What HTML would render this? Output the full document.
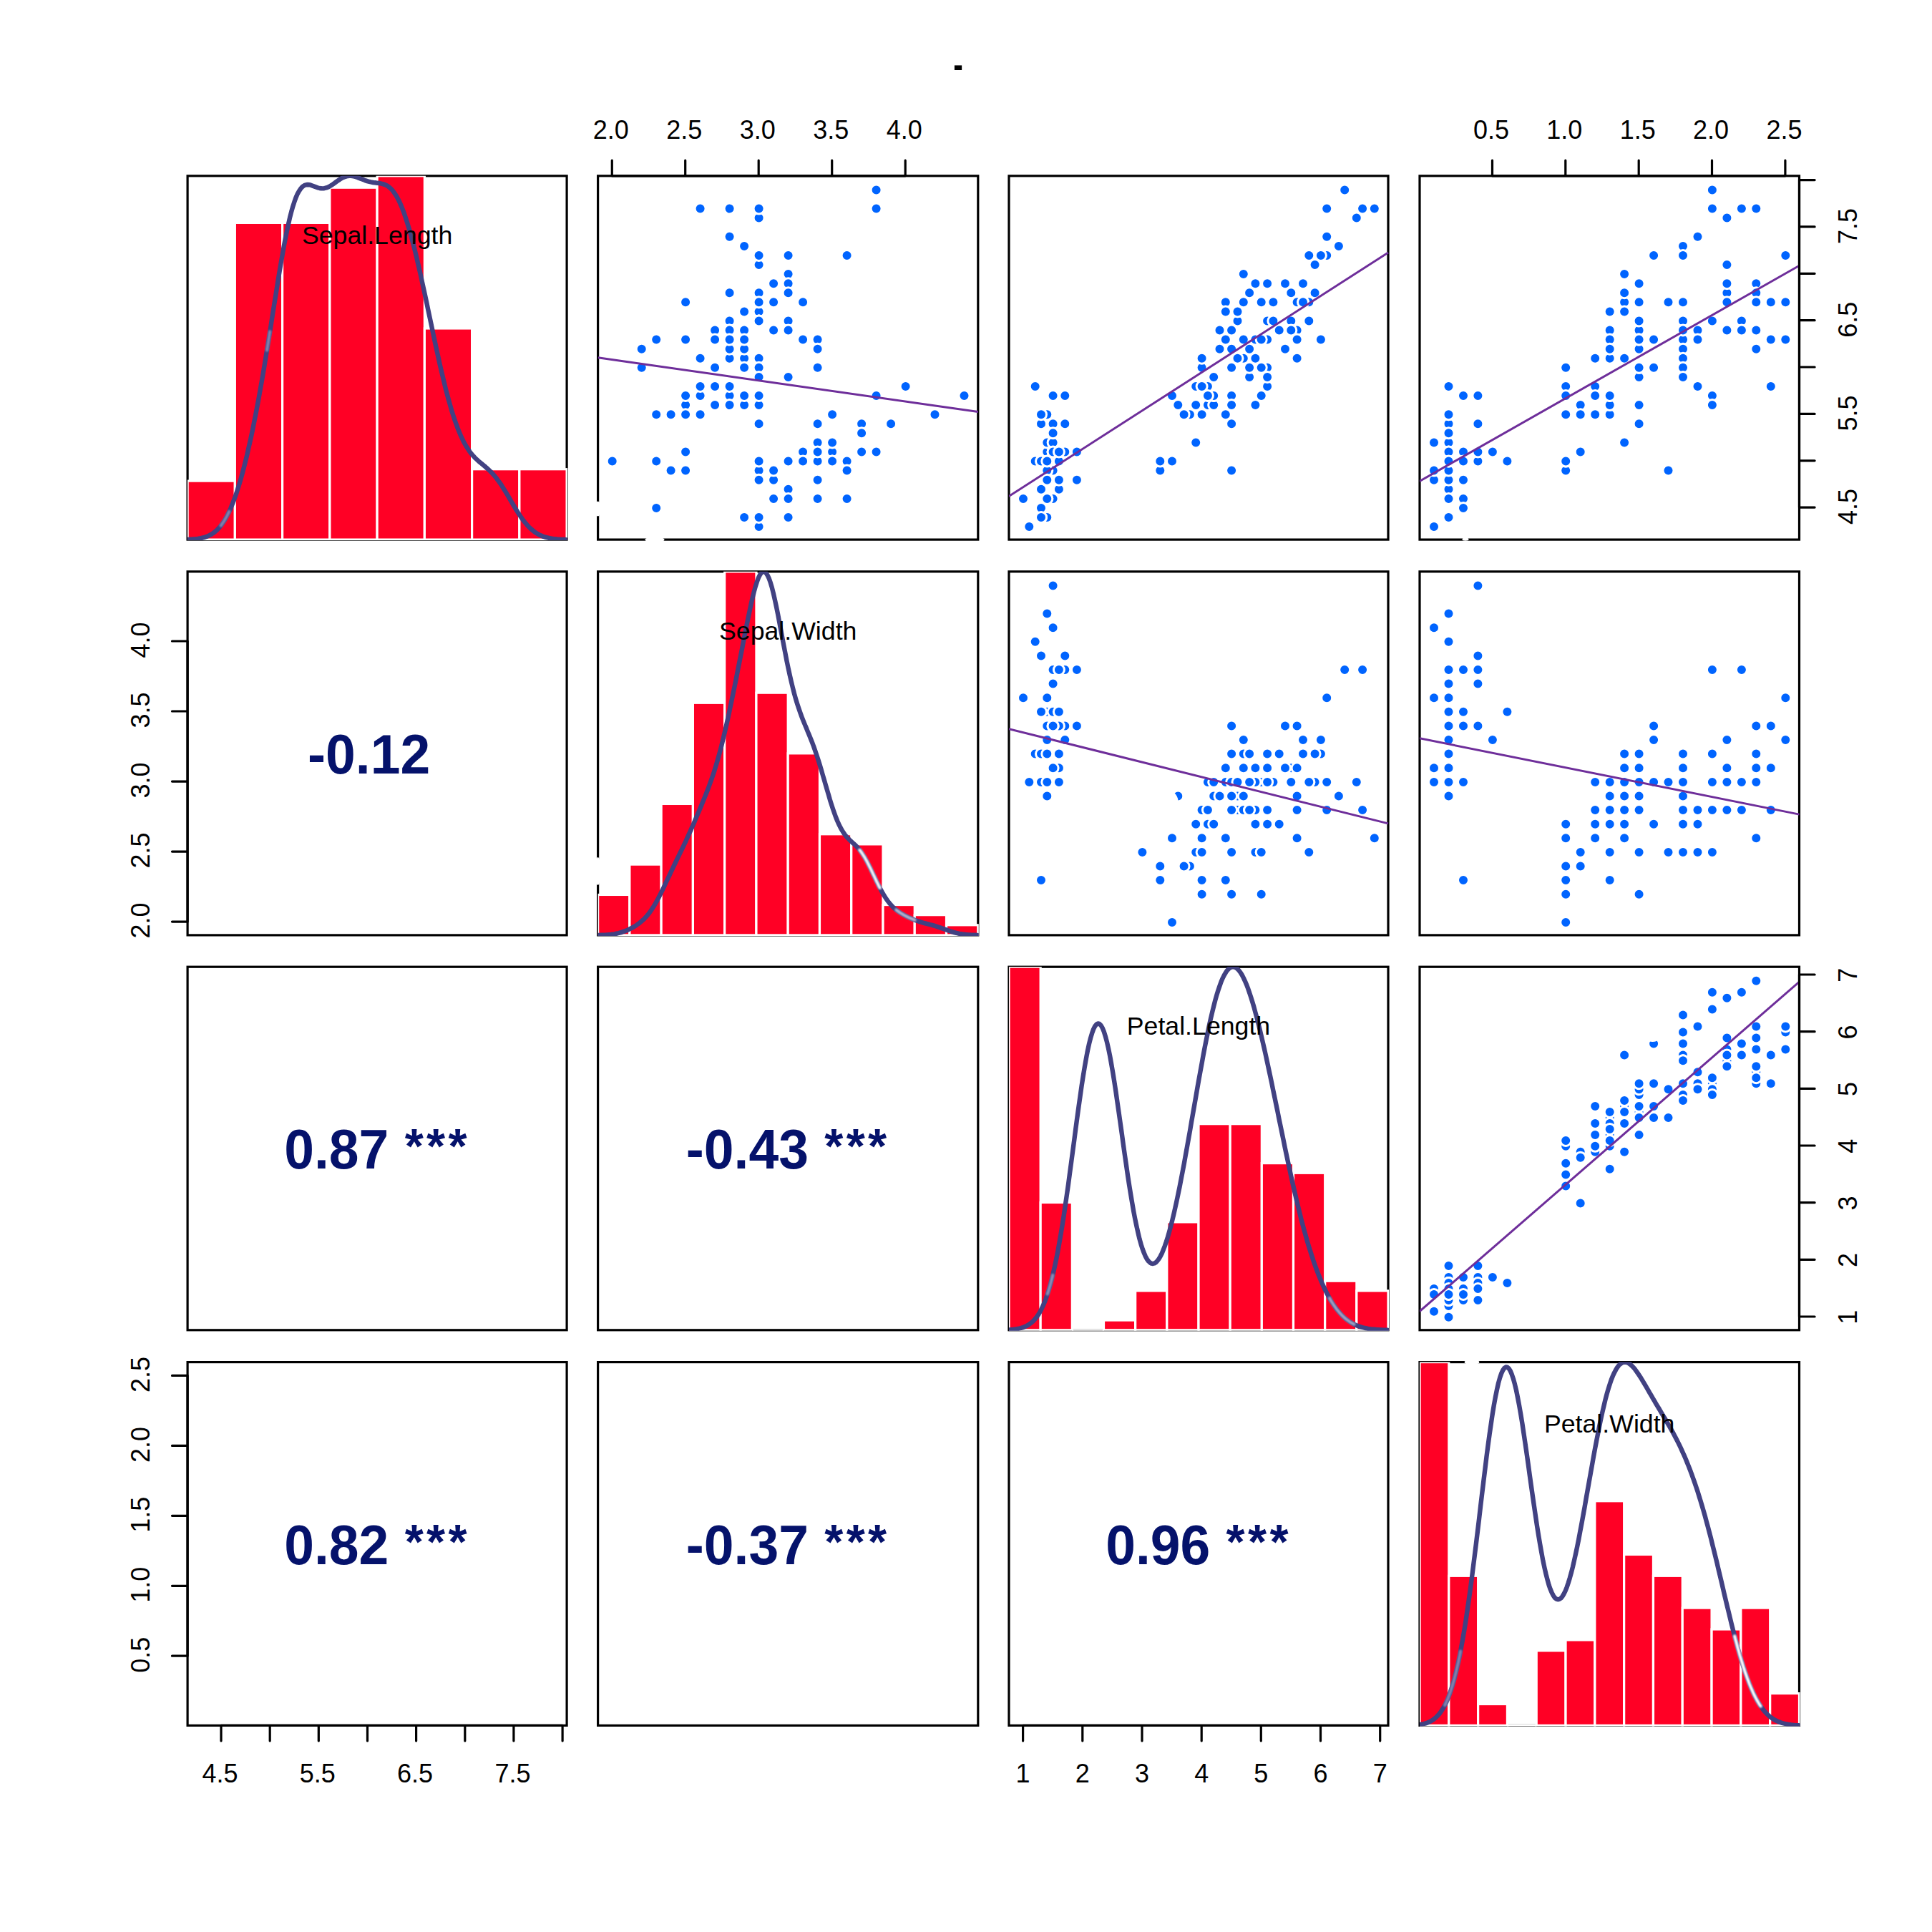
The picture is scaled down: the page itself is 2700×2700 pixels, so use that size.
<!DOCTYPE html>
<html lang="en"><head><meta charset="utf-8"><title>Iris correlation chart</title>
<style>html,body{margin:0;padding:0;background:#fff;overflow:hidden}svg{display:block}</style></head>
<body>
<svg width="2700" height="2700" viewBox="0 0 2700 2700" font-family="'Liberation Sans', Arial, sans-serif">
<rect width="2700" height="2700" fill="#fff"/>
<defs>
<clipPath id="c00"><rect x="262.1" y="245.8" width="531.0" height="509.3"/></clipPath>
<clipPath id="c01"><rect x="835.6" y="245.8" width="532.2" height="509.3"/></clipPath>
<clipPath id="c02"><rect x="1410.0" y="245.8" width="531.0" height="509.3"/></clipPath>
<clipPath id="c03"><rect x="1984.0" y="245.8" width="531.5" height="509.3"/></clipPath>
<clipPath id="c10"><rect x="262.1" y="798.8" width="531.0" height="509.1"/></clipPath>
<clipPath id="c11"><rect x="835.6" y="798.8" width="532.2" height="509.1"/></clipPath>
<clipPath id="c12"><rect x="1410.0" y="798.8" width="531.0" height="509.1"/></clipPath>
<clipPath id="c13"><rect x="1984.0" y="798.8" width="531.5" height="509.1"/></clipPath>
<clipPath id="c20"><rect x="262.1" y="1351.2" width="531.0" height="508.6"/></clipPath>
<clipPath id="c21"><rect x="835.6" y="1351.2" width="532.2" height="508.6"/></clipPath>
<clipPath id="c22"><rect x="1410.0" y="1351.2" width="531.0" height="508.6"/></clipPath>
<clipPath id="c23"><rect x="1984.0" y="1351.2" width="531.5" height="508.6"/></clipPath>
<clipPath id="c30"><rect x="262.1" y="1903.6" width="531.0" height="508.8"/></clipPath>
<clipPath id="c31"><rect x="835.6" y="1903.6" width="532.2" height="508.8"/></clipPath>
<clipPath id="c32"><rect x="1410.0" y="1903.6" width="531.0" height="508.8"/></clipPath>
<clipPath id="c33"><rect x="1984.0" y="1903.6" width="531.5" height="508.8"/></clipPath>
</defs>
<text x="1339" y="97.8" font-size="50" font-weight="bold" text-anchor="middle" fill="#000" transform="translate(1339 97.8) scale(1.45 0.9) translate(-1339 -97.8)">.</text>
<g>
<rect x="262.1" y="245.8" width="530.0" height="508.3" fill="none" stroke="#000" stroke-width="3.2"/>
<g clip-path="url(#c00)" fill="#FF0025" stroke="#fff" stroke-width="3.2">
<rect x="262.10" y="672.12" width="66.25" height="81.98"/>
<rect x="328.35" y="311.39" width="66.25" height="442.71"/>
<rect x="394.60" y="311.39" width="66.25" height="442.71"/>
<rect x="460.85" y="262.20" width="66.25" height="491.90"/>
<rect x="527.10" y="245.80" width="66.25" height="508.30"/>
<rect x="593.35" y="458.96" width="66.25" height="295.14"/>
<rect x="659.60" y="655.72" width="66.25" height="98.38"/>
<rect x="725.85" y="655.72" width="66.25" height="98.38"/>
</g>
<polyline clip-path="url(#c00)" points="262.1,754.0 264.2,753.9 266.2,753.8 268.3,753.7 270.4,753.5 272.5,753.4 274.5,753.1 276.6,752.9 278.7,752.5 280.8,752.2 282.8,751.7 284.9,751.2 287.0,750.5 289.1,749.8 291.1,748.9 293.2,747.9 295.3,746.7 297.4,745.4 299.4,743.9 301.5,742.2 303.6,740.3 305.7,738.1 307.7,735.7 309.8,733.0 311.9,730.0 314.0,726.8 316.0,723.2 318.1,719.3 320.2,715.0 322.3,710.5 324.3,705.5 326.4,700.3 328.5,694.6 330.6,688.6 332.6,682.2 334.7,675.5 336.8,668.4 338.9,660.9 340.9,653.1 343.0,644.9 345.1,636.4 347.1,627.5 349.2,618.3 351.3,608.8 353.4,598.9 355.4,588.6 357.5,578.1 359.6,567.2 361.7,556.0 363.7,544.5 365.8,532.7 367.9,520.6 370.0,508.2 372.0,495.7 374.1,482.9 376.2,470.0 378.3,456.9 380.3,443.8 382.4,430.6 384.5,417.5 386.6,404.4 388.6,391.6 390.7,379.0 392.8,366.7 394.9,354.8 396.9,343.3 399.0,332.4 401.1,322.1 403.2,312.5 405.2,303.6 407.3,295.5 409.4,288.2 411.5,281.8 413.5,276.1 415.6,271.3 417.7,267.4 419.8,264.2 421.8,261.7 423.9,260.0 426.0,258.8 428.0,258.2 430.1,258.0 432.2,258.2 434.3,258.7 436.3,259.4 438.4,260.2 440.5,261.0 442.6,261.8 444.6,262.5 446.7,263.0 448.8,263.3 450.9,263.4 452.9,263.2 455.0,262.7 457.1,262.1 459.2,261.2 461.2,260.1 463.3,258.8 465.4,257.4 467.5,255.9 469.5,254.4 471.6,252.9 473.7,251.5 475.8,250.1 477.8,248.9 479.9,247.9 482.0,247.1 484.1,246.4 486.1,246.0 488.2,245.8 490.3,245.8 492.4,246.0 494.4,246.4 496.5,247.0 498.6,247.6 500.7,248.4 502.7,249.2 504.8,250.0 506.9,250.8 508.9,251.6 511.0,252.4 513.1,253.1 515.2,253.7 517.2,254.2 519.3,254.6 521.4,255.0 523.5,255.3 525.5,255.5 527.6,255.8 529.7,256.0 531.8,256.4 533.8,256.8 535.9,257.4 538.0,258.1 540.1,259.1 542.1,260.3 544.2,261.9 546.3,263.7 548.4,265.9 550.4,268.6 552.5,271.6 554.6,275.0 556.7,278.9 558.7,283.2 560.8,287.9 562.9,293.1 565.0,298.7 567.0,304.8 569.1,311.2 571.2,318.0 573.3,325.2 575.3,332.7 577.4,340.6 579.5,348.8 581.6,357.2 583.6,366.0 585.7,374.9 587.8,384.1 589.8,393.4 591.9,402.9 594.0,412.5 596.1,422.2 598.1,432.0 600.2,441.9 602.3,451.7 604.4,461.6 606.4,471.3 608.5,481.0 610.6,490.6 612.7,500.0 614.7,509.3 616.8,518.3 618.9,527.1 621.0,535.7 623.0,544.0 625.1,551.9 627.2,559.6 629.3,567.0 631.3,574.0 633.4,580.6 635.5,586.9 637.6,592.8 639.6,598.4 641.7,603.6 643.8,608.5 645.9,613.0 647.9,617.2 650.0,621.0 652.1,624.6 654.2,627.8 656.2,630.8 658.3,633.6 660.4,636.1 662.5,638.3 664.5,640.5 666.6,642.4 668.7,644.3 670.7,646.1 672.8,647.8 674.9,649.5 677.0,651.2 679.0,653.0 681.1,654.8 683.2,656.7 685.3,658.7 687.3,660.8 689.4,663.0 691.5,665.5 693.6,668.0 695.6,670.8 697.7,673.6 699.8,676.6 701.9,679.8 703.9,683.1 706.0,686.4 708.1,689.9 710.2,693.4 712.2,696.9 714.3,700.5 716.4,704.0 718.5,707.5 720.5,711.0 722.6,714.3 724.7,717.6 726.8,720.7 728.8,723.7 730.9,726.6 733.0,729.3 735.1,731.8 737.1,734.2 739.2,736.4 741.3,738.5 743.4,740.3 745.4,742.0 747.5,743.6 749.6,745.0 751.6,746.2 753.7,747.3 755.8,748.3 757.9,749.2 759.9,750.0 762.0,750.6 764.1,751.2 766.2,751.7 768.2,752.1 770.3,752.5 772.4,752.8 774.5,753.1 776.5,753.3 778.6,753.5 780.7,753.6 782.8,753.8 784.8,753.9 786.9,754.0 789.0,754.0 791.1,754.1" fill="none" stroke="#414182" stroke-width="6.4" stroke-linejoin="round" stroke-linecap="round"/>
<text x="527.1" y="340.8" font-size="35.7" text-anchor="middle" fill="#000">Sepal.Length</text>
</g>
<g>
<rect x="835.6" y="245.8" width="531.2" height="508.3" fill="none" stroke="#000" stroke-width="3.2"/>
<g clip-path="url(#c01)" fill="#0064FF" stroke="#fff" stroke-width="3.0">
<circle cx="1163.1" cy="631.5" r="7.5"/>
<circle cx="1060.6" cy="657.6" r="7.5"/>
<circle cx="1101.6" cy="683.8" r="7.5"/>
<circle cx="1081.1" cy="696.9" r="7.5"/>
<circle cx="1183.6" cy="644.6" r="7.5"/>
<circle cx="1245.1" cy="592.3" r="7.5"/>
<circle cx="1142.6" cy="696.9" r="7.5"/>
<circle cx="1142.6" cy="644.6" r="7.5"/>
<circle cx="1040.1" cy="723.0" r="7.5"/>
<circle cx="1081.1" cy="657.6" r="7.5"/>
<circle cx="1204.1" cy="592.3" r="7.5"/>
<circle cx="1142.6" cy="670.7" r="7.5"/>
<circle cx="1060.6" cy="670.7" r="7.5"/>
<circle cx="1060.6" cy="736.1" r="7.5"/>
<circle cx="1265.6" cy="540.0" r="7.5"/>
<circle cx="1347.5" cy="553.0" r="7.5"/>
<circle cx="1245.1" cy="592.3" r="7.5"/>
<circle cx="1163.1" cy="631.5" r="7.5"/>
<circle cx="1224.6" cy="553.0" r="7.5"/>
<circle cx="1224.6" cy="631.5" r="7.5"/>
<circle cx="1142.6" cy="592.3" r="7.5"/>
<circle cx="1204.1" cy="631.5" r="7.5"/>
<circle cx="1183.6" cy="696.9" r="7.5"/>
<circle cx="1122.1" cy="631.5" r="7.5"/>
<circle cx="1142.6" cy="670.7" r="7.5"/>
<circle cx="1060.6" cy="644.6" r="7.5"/>
<circle cx="1142.6" cy="644.6" r="7.5"/>
<circle cx="1163.1" cy="618.4" r="7.5"/>
<circle cx="1142.6" cy="618.4" r="7.5"/>
<circle cx="1101.6" cy="683.8" r="7.5"/>
<circle cx="1081.1" cy="670.7" r="7.5"/>
<circle cx="1142.6" cy="592.3" r="7.5"/>
<circle cx="1306.5" cy="579.2" r="7.5"/>
<circle cx="1081.1" cy="657.6" r="7.5"/>
<circle cx="1101.6" cy="644.6" r="7.5"/>
<circle cx="1163.1" cy="579.2" r="7.5"/>
<circle cx="1183.6" cy="657.6" r="7.5"/>
<circle cx="1060.6" cy="723.0" r="7.5"/>
<circle cx="1142.6" cy="631.5" r="7.5"/>
<circle cx="1163.1" cy="644.6" r="7.5"/>
<circle cx="917.2" cy="709.9" r="7.5"/>
<circle cx="1101.6" cy="723.0" r="7.5"/>
<circle cx="1163.1" cy="644.6" r="7.5"/>
<circle cx="1224.6" cy="631.5" r="7.5"/>
<circle cx="1060.6" cy="670.7" r="7.5"/>
<circle cx="1224.6" cy="631.5" r="7.5"/>
<circle cx="1101.6" cy="696.9" r="7.5"/>
<circle cx="1204.1" cy="605.3" r="7.5"/>
<circle cx="1122.1" cy="644.6" r="7.5"/>
<circle cx="1101.6" cy="383.1" r="7.5"/>
<circle cx="1101.6" cy="461.5" r="7.5"/>
<circle cx="1081.1" cy="396.2" r="7.5"/>
<circle cx="917.2" cy="579.2" r="7.5"/>
<circle cx="1019.6" cy="448.5" r="7.5"/>
<circle cx="1019.6" cy="553.0" r="7.5"/>
<circle cx="1122.1" cy="474.6" r="7.5"/>
<circle cx="937.6" cy="657.6" r="7.5"/>
<circle cx="1040.1" cy="435.4" r="7.5"/>
<circle cx="855.7" cy="644.6" r="7.5"/>
<circle cx="1060.6" cy="526.9" r="7.5"/>
<circle cx="896.7" cy="513.8" r="7.5"/>
<circle cx="1040.1" cy="500.8" r="7.5"/>
<circle cx="1040.1" cy="566.1" r="7.5"/>
<circle cx="1081.1" cy="422.3" r="7.5"/>
<circle cx="1060.6" cy="566.1" r="7.5"/>
<circle cx="999.1" cy="540.0" r="7.5"/>
<circle cx="896.7" cy="487.7" r="7.5"/>
<circle cx="958.1" cy="566.1" r="7.5"/>
<circle cx="1101.6" cy="526.9" r="7.5"/>
<circle cx="1019.6" cy="500.8" r="7.5"/>
<circle cx="958.1" cy="474.6" r="7.5"/>
<circle cx="1019.6" cy="500.8" r="7.5"/>
<circle cx="1040.1" cy="461.5" r="7.5"/>
<circle cx="1060.6" cy="435.4" r="7.5"/>
<circle cx="1019.6" cy="409.2" r="7.5"/>
<circle cx="1060.6" cy="422.3" r="7.5"/>
<circle cx="1040.1" cy="513.8" r="7.5"/>
<circle cx="978.6" cy="553.0" r="7.5"/>
<circle cx="937.6" cy="579.2" r="7.5"/>
<circle cx="937.6" cy="579.2" r="7.5"/>
<circle cx="999.1" cy="540.0" r="7.5"/>
<circle cx="999.1" cy="513.8" r="7.5"/>
<circle cx="1060.6" cy="592.3" r="7.5"/>
<circle cx="1142.6" cy="513.8" r="7.5"/>
<circle cx="1081.1" cy="422.3" r="7.5"/>
<circle cx="917.2" cy="474.6" r="7.5"/>
<circle cx="1060.6" cy="566.1" r="7.5"/>
<circle cx="958.1" cy="579.2" r="7.5"/>
<circle cx="978.6" cy="579.2" r="7.5"/>
<circle cx="1060.6" cy="500.8" r="7.5"/>
<circle cx="978.6" cy="540.0" r="7.5"/>
<circle cx="917.2" cy="644.6" r="7.5"/>
<circle cx="999.1" cy="566.1" r="7.5"/>
<circle cx="1060.6" cy="553.0" r="7.5"/>
<circle cx="1040.1" cy="553.0" r="7.5"/>
<circle cx="1040.1" cy="487.7" r="7.5"/>
<circle cx="958.1" cy="631.5" r="7.5"/>
<circle cx="1019.6" cy="553.0" r="7.5"/>
<circle cx="1122.1" cy="474.6" r="7.5"/>
<circle cx="999.1" cy="540.0" r="7.5"/>
<circle cx="1060.6" cy="370.0" r="7.5"/>
<circle cx="1040.1" cy="474.6" r="7.5"/>
<circle cx="1060.6" cy="448.5" r="7.5"/>
<circle cx="1060.6" cy="304.6" r="7.5"/>
<circle cx="958.1" cy="657.6" r="7.5"/>
<circle cx="1040.1" cy="343.9" r="7.5"/>
<circle cx="958.1" cy="422.3" r="7.5"/>
<circle cx="1183.6" cy="356.9" r="7.5"/>
<circle cx="1101.6" cy="448.5" r="7.5"/>
<circle cx="999.1" cy="461.5" r="7.5"/>
<circle cx="1060.6" cy="409.2" r="7.5"/>
<circle cx="958.1" cy="553.0" r="7.5"/>
<circle cx="1019.6" cy="540.0" r="7.5"/>
<circle cx="1101.6" cy="461.5" r="7.5"/>
<circle cx="1060.6" cy="448.5" r="7.5"/>
<circle cx="1224.6" cy="291.6" r="7.5"/>
<circle cx="978.6" cy="291.6" r="7.5"/>
<circle cx="896.7" cy="513.8" r="7.5"/>
<circle cx="1101.6" cy="396.2" r="7.5"/>
<circle cx="1019.6" cy="566.1" r="7.5"/>
<circle cx="1019.6" cy="291.6" r="7.5"/>
<circle cx="999.1" cy="474.6" r="7.5"/>
<circle cx="1122.1" cy="422.3" r="7.5"/>
<circle cx="1101.6" cy="356.9" r="7.5"/>
<circle cx="1019.6" cy="487.7" r="7.5"/>
<circle cx="1060.6" cy="500.8" r="7.5"/>
<circle cx="1019.6" cy="461.5" r="7.5"/>
<circle cx="1060.6" cy="356.9" r="7.5"/>
<circle cx="1019.6" cy="330.8" r="7.5"/>
<circle cx="1224.6" cy="265.4" r="7.5"/>
<circle cx="1019.6" cy="461.5" r="7.5"/>
<circle cx="1019.6" cy="474.6" r="7.5"/>
<circle cx="978.6" cy="500.8" r="7.5"/>
<circle cx="1060.6" cy="291.6" r="7.5"/>
<circle cx="1142.6" cy="474.6" r="7.5"/>
<circle cx="1081.1" cy="461.5" r="7.5"/>
<circle cx="1060.6" cy="513.8" r="7.5"/>
<circle cx="1081.1" cy="396.2" r="7.5"/>
<circle cx="1081.1" cy="422.3" r="7.5"/>
<circle cx="1081.1" cy="396.2" r="7.5"/>
<circle cx="999.1" cy="540.0" r="7.5"/>
<circle cx="1101.6" cy="409.2" r="7.5"/>
<circle cx="1122.1" cy="422.3" r="7.5"/>
<circle cx="1060.6" cy="422.3" r="7.5"/>
<circle cx="958.1" cy="474.6" r="7.5"/>
<circle cx="1060.6" cy="448.5" r="7.5"/>
<circle cx="1142.6" cy="487.7" r="7.5"/>
<circle cx="1060.6" cy="526.9" r="7.5"/>
</g>
<line clip-path="url(#c01)" x1="835.6" y1="499.8" x2="1366.8" y2="575.5" stroke="#6E2E9A" stroke-width="3"/>
</g>
<g>
<rect x="1410.0" y="245.8" width="530.0" height="508.3" fill="none" stroke="#000" stroke-width="3.2"/>
<g clip-path="url(#c02)" fill="#0064FF" stroke="#fff" stroke-width="3.0">
<circle cx="1463.3" cy="631.5" r="7.5"/>
<circle cx="1463.3" cy="657.6" r="7.5"/>
<circle cx="1455.0" cy="683.8" r="7.5"/>
<circle cx="1471.6" cy="696.9" r="7.5"/>
<circle cx="1463.3" cy="644.6" r="7.5"/>
<circle cx="1488.3" cy="592.3" r="7.5"/>
<circle cx="1463.3" cy="696.9" r="7.5"/>
<circle cx="1471.6" cy="644.6" r="7.5"/>
<circle cx="1463.3" cy="723.0" r="7.5"/>
<circle cx="1471.6" cy="657.6" r="7.5"/>
<circle cx="1471.6" cy="592.3" r="7.5"/>
<circle cx="1479.9" cy="670.7" r="7.5"/>
<circle cx="1463.3" cy="670.7" r="7.5"/>
<circle cx="1438.3" cy="736.1" r="7.5"/>
<circle cx="1446.7" cy="540.0" r="7.5"/>
<circle cx="1471.6" cy="553.0" r="7.5"/>
<circle cx="1455.0" cy="592.3" r="7.5"/>
<circle cx="1463.3" cy="631.5" r="7.5"/>
<circle cx="1488.3" cy="553.0" r="7.5"/>
<circle cx="1471.6" cy="631.5" r="7.5"/>
<circle cx="1488.3" cy="592.3" r="7.5"/>
<circle cx="1471.6" cy="631.5" r="7.5"/>
<circle cx="1430.0" cy="696.9" r="7.5"/>
<circle cx="1488.3" cy="631.5" r="7.5"/>
<circle cx="1504.9" cy="670.7" r="7.5"/>
<circle cx="1479.9" cy="644.6" r="7.5"/>
<circle cx="1479.9" cy="644.6" r="7.5"/>
<circle cx="1471.6" cy="618.4" r="7.5"/>
<circle cx="1463.3" cy="618.4" r="7.5"/>
<circle cx="1479.9" cy="683.8" r="7.5"/>
<circle cx="1479.9" cy="670.7" r="7.5"/>
<circle cx="1471.6" cy="592.3" r="7.5"/>
<circle cx="1471.6" cy="618.4" r="7.5"/>
<circle cx="1463.3" cy="579.2" r="7.5"/>
<circle cx="1471.6" cy="657.6" r="7.5"/>
<circle cx="1446.7" cy="644.6" r="7.5"/>
<circle cx="1455.0" cy="579.2" r="7.5"/>
<circle cx="1463.3" cy="657.6" r="7.5"/>
<circle cx="1455.0" cy="723.0" r="7.5"/>
<circle cx="1471.6" cy="631.5" r="7.5"/>
<circle cx="1455.0" cy="644.6" r="7.5"/>
<circle cx="1455.0" cy="709.9" r="7.5"/>
<circle cx="1455.0" cy="723.0" r="7.5"/>
<circle cx="1479.9" cy="644.6" r="7.5"/>
<circle cx="1504.9" cy="631.5" r="7.5"/>
<circle cx="1463.3" cy="670.7" r="7.5"/>
<circle cx="1479.9" cy="631.5" r="7.5"/>
<circle cx="1463.3" cy="696.9" r="7.5"/>
<circle cx="1471.6" cy="605.3" r="7.5"/>
<circle cx="1463.3" cy="644.6" r="7.5"/>
<circle cx="1737.8" cy="383.1" r="7.5"/>
<circle cx="1721.1" cy="461.5" r="7.5"/>
<circle cx="1754.4" cy="396.2" r="7.5"/>
<circle cx="1679.6" cy="579.2" r="7.5"/>
<circle cx="1729.5" cy="448.5" r="7.5"/>
<circle cx="1721.1" cy="553.0" r="7.5"/>
<circle cx="1737.8" cy="474.6" r="7.5"/>
<circle cx="1621.3" cy="657.6" r="7.5"/>
<circle cx="1729.5" cy="435.4" r="7.5"/>
<circle cx="1671.2" cy="618.4" r="7.5"/>
<circle cx="1638.0" cy="644.6" r="7.5"/>
<circle cx="1696.2" cy="526.9" r="7.5"/>
<circle cx="1679.6" cy="513.8" r="7.5"/>
<circle cx="1737.8" cy="500.8" r="7.5"/>
<circle cx="1646.3" cy="566.1" r="7.5"/>
<circle cx="1712.8" cy="422.3" r="7.5"/>
<circle cx="1721.1" cy="566.1" r="7.5"/>
<circle cx="1687.9" cy="540.0" r="7.5"/>
<circle cx="1721.1" cy="487.7" r="7.5"/>
<circle cx="1671.2" cy="566.1" r="7.5"/>
<circle cx="1746.1" cy="526.9" r="7.5"/>
<circle cx="1679.6" cy="500.8" r="7.5"/>
<circle cx="1754.4" cy="474.6" r="7.5"/>
<circle cx="1737.8" cy="500.8" r="7.5"/>
<circle cx="1704.5" cy="461.5" r="7.5"/>
<circle cx="1712.8" cy="435.4" r="7.5"/>
<circle cx="1746.1" cy="409.2" r="7.5"/>
<circle cx="1762.7" cy="422.3" r="7.5"/>
<circle cx="1721.1" cy="513.8" r="7.5"/>
<circle cx="1638.0" cy="553.0" r="7.5"/>
<circle cx="1662.9" cy="579.2" r="7.5"/>
<circle cx="1654.6" cy="579.2" r="7.5"/>
<circle cx="1671.2" cy="540.0" r="7.5"/>
<circle cx="1771.1" cy="513.8" r="7.5"/>
<circle cx="1721.1" cy="592.3" r="7.5"/>
<circle cx="1721.1" cy="513.8" r="7.5"/>
<circle cx="1737.8" cy="422.3" r="7.5"/>
<circle cx="1712.8" cy="474.6" r="7.5"/>
<circle cx="1687.9" cy="566.1" r="7.5"/>
<circle cx="1679.6" cy="579.2" r="7.5"/>
<circle cx="1712.8" cy="579.2" r="7.5"/>
<circle cx="1729.5" cy="500.8" r="7.5"/>
<circle cx="1679.6" cy="540.0" r="7.5"/>
<circle cx="1621.3" cy="644.6" r="7.5"/>
<circle cx="1696.2" cy="566.1" r="7.5"/>
<circle cx="1696.2" cy="553.0" r="7.5"/>
<circle cx="1696.2" cy="553.0" r="7.5"/>
<circle cx="1704.5" cy="487.7" r="7.5"/>
<circle cx="1687.9" cy="553.0" r="7.5"/>
<circle cx="1845.9" cy="474.6" r="7.5"/>
<circle cx="1771.1" cy="540.0" r="7.5"/>
<circle cx="1837.6" cy="370.0" r="7.5"/>
<circle cx="1812.6" cy="474.6" r="7.5"/>
<circle cx="1829.3" cy="448.5" r="7.5"/>
<circle cx="1895.8" cy="304.6" r="7.5"/>
<circle cx="1721.1" cy="657.6" r="7.5"/>
<circle cx="1870.9" cy="343.9" r="7.5"/>
<circle cx="1829.3" cy="422.3" r="7.5"/>
<circle cx="1854.2" cy="356.9" r="7.5"/>
<circle cx="1771.1" cy="448.5" r="7.5"/>
<circle cx="1787.7" cy="461.5" r="7.5"/>
<circle cx="1804.3" cy="409.2" r="7.5"/>
<circle cx="1762.7" cy="553.0" r="7.5"/>
<circle cx="1771.1" cy="540.0" r="7.5"/>
<circle cx="1787.7" cy="461.5" r="7.5"/>
<circle cx="1804.3" cy="448.5" r="7.5"/>
<circle cx="1904.1" cy="291.6" r="7.5"/>
<circle cx="1920.8" cy="291.6" r="7.5"/>
<circle cx="1762.7" cy="513.8" r="7.5"/>
<circle cx="1821.0" cy="396.2" r="7.5"/>
<circle cx="1754.4" cy="566.1" r="7.5"/>
<circle cx="1904.1" cy="291.6" r="7.5"/>
<circle cx="1754.4" cy="474.6" r="7.5"/>
<circle cx="1821.0" cy="422.3" r="7.5"/>
<circle cx="1845.9" cy="356.9" r="7.5"/>
<circle cx="1746.1" cy="487.7" r="7.5"/>
<circle cx="1754.4" cy="500.8" r="7.5"/>
<circle cx="1812.6" cy="461.5" r="7.5"/>
<circle cx="1829.3" cy="356.9" r="7.5"/>
<circle cx="1854.2" cy="330.8" r="7.5"/>
<circle cx="1879.2" cy="265.4" r="7.5"/>
<circle cx="1812.6" cy="461.5" r="7.5"/>
<circle cx="1771.1" cy="474.6" r="7.5"/>
<circle cx="1812.6" cy="500.8" r="7.5"/>
<circle cx="1854.2" cy="291.6" r="7.5"/>
<circle cx="1812.6" cy="474.6" r="7.5"/>
<circle cx="1804.3" cy="461.5" r="7.5"/>
<circle cx="1746.1" cy="513.8" r="7.5"/>
<circle cx="1796.0" cy="396.2" r="7.5"/>
<circle cx="1812.6" cy="422.3" r="7.5"/>
<circle cx="1771.1" cy="396.2" r="7.5"/>
<circle cx="1771.1" cy="540.0" r="7.5"/>
<circle cx="1837.6" cy="409.2" r="7.5"/>
<circle cx="1821.0" cy="422.3" r="7.5"/>
<circle cx="1779.4" cy="422.3" r="7.5"/>
<circle cx="1762.7" cy="474.6" r="7.5"/>
<circle cx="1779.4" cy="448.5" r="7.5"/>
<circle cx="1796.0" cy="487.7" r="7.5"/>
<circle cx="1771.1" cy="526.9" r="7.5"/>
</g>
<line clip-path="url(#c02)" x1="1410.0" y1="693.6" x2="1940.0" y2="352.9" stroke="#6E2E9A" stroke-width="3"/>
</g>
<g>
<rect x="1984.0" y="245.8" width="530.5" height="508.3" fill="none" stroke="#000" stroke-width="3.2"/>
<g clip-path="url(#c03)" fill="#0064FF" stroke="#fff" stroke-width="3.0">
<circle cx="2024.5" cy="631.5" r="7.5"/>
<circle cx="2024.5" cy="657.6" r="7.5"/>
<circle cx="2024.5" cy="683.8" r="7.5"/>
<circle cx="2024.5" cy="696.9" r="7.5"/>
<circle cx="2024.5" cy="644.6" r="7.5"/>
<circle cx="2065.4" cy="592.3" r="7.5"/>
<circle cx="2045.0" cy="696.9" r="7.5"/>
<circle cx="2024.5" cy="644.6" r="7.5"/>
<circle cx="2024.5" cy="723.0" r="7.5"/>
<circle cx="2004.0" cy="657.6" r="7.5"/>
<circle cx="2024.5" cy="592.3" r="7.5"/>
<circle cx="2024.5" cy="670.7" r="7.5"/>
<circle cx="2004.0" cy="670.7" r="7.5"/>
<circle cx="2004.0" cy="736.1" r="7.5"/>
<circle cx="2024.5" cy="540.0" r="7.5"/>
<circle cx="2065.4" cy="553.0" r="7.5"/>
<circle cx="2065.4" cy="592.3" r="7.5"/>
<circle cx="2045.0" cy="631.5" r="7.5"/>
<circle cx="2045.0" cy="553.0" r="7.5"/>
<circle cx="2045.0" cy="631.5" r="7.5"/>
<circle cx="2024.5" cy="592.3" r="7.5"/>
<circle cx="2065.4" cy="631.5" r="7.5"/>
<circle cx="2024.5" cy="696.9" r="7.5"/>
<circle cx="2085.9" cy="631.5" r="7.5"/>
<circle cx="2024.5" cy="670.7" r="7.5"/>
<circle cx="2024.5" cy="644.6" r="7.5"/>
<circle cx="2065.4" cy="644.6" r="7.5"/>
<circle cx="2024.5" cy="618.4" r="7.5"/>
<circle cx="2024.5" cy="618.4" r="7.5"/>
<circle cx="2024.5" cy="683.8" r="7.5"/>
<circle cx="2024.5" cy="670.7" r="7.5"/>
<circle cx="2065.4" cy="592.3" r="7.5"/>
<circle cx="2004.0" cy="618.4" r="7.5"/>
<circle cx="2024.5" cy="579.2" r="7.5"/>
<circle cx="2024.5" cy="657.6" r="7.5"/>
<circle cx="2024.5" cy="644.6" r="7.5"/>
<circle cx="2024.5" cy="579.2" r="7.5"/>
<circle cx="2004.0" cy="657.6" r="7.5"/>
<circle cx="2024.5" cy="723.0" r="7.5"/>
<circle cx="2024.5" cy="631.5" r="7.5"/>
<circle cx="2045.0" cy="644.6" r="7.5"/>
<circle cx="2045.0" cy="709.9" r="7.5"/>
<circle cx="2024.5" cy="723.0" r="7.5"/>
<circle cx="2106.4" cy="644.6" r="7.5"/>
<circle cx="2065.4" cy="631.5" r="7.5"/>
<circle cx="2045.0" cy="670.7" r="7.5"/>
<circle cx="2024.5" cy="631.5" r="7.5"/>
<circle cx="2024.5" cy="696.9" r="7.5"/>
<circle cx="2024.5" cy="605.3" r="7.5"/>
<circle cx="2024.5" cy="644.6" r="7.5"/>
<circle cx="2270.1" cy="383.1" r="7.5"/>
<circle cx="2290.6" cy="461.5" r="7.5"/>
<circle cx="2290.6" cy="396.2" r="7.5"/>
<circle cx="2249.7" cy="579.2" r="7.5"/>
<circle cx="2290.6" cy="448.5" r="7.5"/>
<circle cx="2249.7" cy="553.0" r="7.5"/>
<circle cx="2311.1" cy="474.6" r="7.5"/>
<circle cx="2188.2" cy="657.6" r="7.5"/>
<circle cx="2249.7" cy="435.4" r="7.5"/>
<circle cx="2270.1" cy="618.4" r="7.5"/>
<circle cx="2188.2" cy="644.6" r="7.5"/>
<circle cx="2290.6" cy="526.9" r="7.5"/>
<circle cx="2188.2" cy="513.8" r="7.5"/>
<circle cx="2270.1" cy="500.8" r="7.5"/>
<circle cx="2249.7" cy="566.1" r="7.5"/>
<circle cx="2270.1" cy="422.3" r="7.5"/>
<circle cx="2290.6" cy="566.1" r="7.5"/>
<circle cx="2188.2" cy="540.0" r="7.5"/>
<circle cx="2290.6" cy="487.7" r="7.5"/>
<circle cx="2208.7" cy="566.1" r="7.5"/>
<circle cx="2352.0" cy="526.9" r="7.5"/>
<circle cx="2249.7" cy="500.8" r="7.5"/>
<circle cx="2290.6" cy="474.6" r="7.5"/>
<circle cx="2229.2" cy="500.8" r="7.5"/>
<circle cx="2249.7" cy="461.5" r="7.5"/>
<circle cx="2270.1" cy="435.4" r="7.5"/>
<circle cx="2270.1" cy="409.2" r="7.5"/>
<circle cx="2331.5" cy="422.3" r="7.5"/>
<circle cx="2290.6" cy="513.8" r="7.5"/>
<circle cx="2188.2" cy="553.0" r="7.5"/>
<circle cx="2208.7" cy="579.2" r="7.5"/>
<circle cx="2188.2" cy="579.2" r="7.5"/>
<circle cx="2229.2" cy="540.0" r="7.5"/>
<circle cx="2311.1" cy="513.8" r="7.5"/>
<circle cx="2290.6" cy="592.3" r="7.5"/>
<circle cx="2311.1" cy="513.8" r="7.5"/>
<circle cx="2290.6" cy="422.3" r="7.5"/>
<circle cx="2249.7" cy="474.6" r="7.5"/>
<circle cx="2249.7" cy="566.1" r="7.5"/>
<circle cx="2249.7" cy="579.2" r="7.5"/>
<circle cx="2229.2" cy="579.2" r="7.5"/>
<circle cx="2270.1" cy="500.8" r="7.5"/>
<circle cx="2229.2" cy="540.0" r="7.5"/>
<circle cx="2188.2" cy="644.6" r="7.5"/>
<circle cx="2249.7" cy="566.1" r="7.5"/>
<circle cx="2229.2" cy="553.0" r="7.5"/>
<circle cx="2249.7" cy="553.0" r="7.5"/>
<circle cx="2249.7" cy="487.7" r="7.5"/>
<circle cx="2208.7" cy="631.5" r="7.5"/>
<circle cx="2249.7" cy="553.0" r="7.5"/>
<circle cx="2495.3" cy="474.6" r="7.5"/>
<circle cx="2372.5" cy="540.0" r="7.5"/>
<circle cx="2413.4" cy="370.0" r="7.5"/>
<circle cx="2352.0" cy="474.6" r="7.5"/>
<circle cx="2433.9" cy="448.5" r="7.5"/>
<circle cx="2413.4" cy="304.6" r="7.5"/>
<circle cx="2331.5" cy="657.6" r="7.5"/>
<circle cx="2352.0" cy="343.9" r="7.5"/>
<circle cx="2352.0" cy="422.3" r="7.5"/>
<circle cx="2495.3" cy="356.9" r="7.5"/>
<circle cx="2392.9" cy="448.5" r="7.5"/>
<circle cx="2372.5" cy="461.5" r="7.5"/>
<circle cx="2413.4" cy="409.2" r="7.5"/>
<circle cx="2392.9" cy="553.0" r="7.5"/>
<circle cx="2474.8" cy="540.0" r="7.5"/>
<circle cx="2454.3" cy="461.5" r="7.5"/>
<circle cx="2352.0" cy="448.5" r="7.5"/>
<circle cx="2433.9" cy="291.6" r="7.5"/>
<circle cx="2454.3" cy="291.6" r="7.5"/>
<circle cx="2290.6" cy="513.8" r="7.5"/>
<circle cx="2454.3" cy="396.2" r="7.5"/>
<circle cx="2392.9" cy="566.1" r="7.5"/>
<circle cx="2392.9" cy="291.6" r="7.5"/>
<circle cx="2352.0" cy="474.6" r="7.5"/>
<circle cx="2413.4" cy="422.3" r="7.5"/>
<circle cx="2352.0" cy="356.9" r="7.5"/>
<circle cx="2352.0" cy="487.7" r="7.5"/>
<circle cx="2352.0" cy="500.8" r="7.5"/>
<circle cx="2413.4" cy="461.5" r="7.5"/>
<circle cx="2311.1" cy="356.9" r="7.5"/>
<circle cx="2372.5" cy="330.8" r="7.5"/>
<circle cx="2392.9" cy="265.4" r="7.5"/>
<circle cx="2433.9" cy="461.5" r="7.5"/>
<circle cx="2290.6" cy="474.6" r="7.5"/>
<circle cx="2270.1" cy="500.8" r="7.5"/>
<circle cx="2454.3" cy="291.6" r="7.5"/>
<circle cx="2474.8" cy="474.6" r="7.5"/>
<circle cx="2352.0" cy="461.5" r="7.5"/>
<circle cx="2352.0" cy="513.8" r="7.5"/>
<circle cx="2413.4" cy="396.2" r="7.5"/>
<circle cx="2474.8" cy="422.3" r="7.5"/>
<circle cx="2454.3" cy="396.2" r="7.5"/>
<circle cx="2372.5" cy="540.0" r="7.5"/>
<circle cx="2454.3" cy="409.2" r="7.5"/>
<circle cx="2495.3" cy="422.3" r="7.5"/>
<circle cx="2454.3" cy="422.3" r="7.5"/>
<circle cx="2372.5" cy="474.6" r="7.5"/>
<circle cx="2392.9" cy="448.5" r="7.5"/>
<circle cx="2454.3" cy="487.7" r="7.5"/>
<circle cx="2352.0" cy="526.9" r="7.5"/>
</g>
<line clip-path="url(#c03)" x1="1984.0" y1="672.4" x2="2514.5" y2="371.3" stroke="#6E2E9A" stroke-width="3"/>
</g>
<g>
<rect x="262.1" y="798.8" width="530.0" height="508.1" fill="none" stroke="#000" stroke-width="3.2"/>
<text transform="translate(526.0 1080.8) scale(0.975 1)" font-size="77" font-weight="bold" text-anchor="middle" fill="#05126B" xml:space="preserve" style="white-space:pre">-0.12 </text>
</g>
<g>
<rect x="835.6" y="798.8" width="531.2" height="508.1" fill="none" stroke="#000" stroke-width="3.2"/>
<g clip-path="url(#c11)" fill="#FF0025" stroke="#fff" stroke-width="3.2">
<rect x="835.60" y="1250.44" width="44.27" height="56.46"/>
<rect x="879.87" y="1208.10" width="44.27" height="98.80"/>
<rect x="924.13" y="1123.42" width="44.27" height="183.48"/>
<rect x="968.40" y="982.28" width="44.27" height="324.62"/>
<rect x="1012.67" y="798.80" width="44.27" height="508.10"/>
<rect x="1056.93" y="968.17" width="44.27" height="338.73"/>
<rect x="1101.20" y="1052.85" width="44.27" height="254.05"/>
<rect x="1145.47" y="1165.76" width="44.27" height="141.14"/>
<rect x="1189.73" y="1179.88" width="44.27" height="127.03"/>
<rect x="1234.00" y="1264.56" width="44.27" height="42.34"/>
<rect x="1278.27" y="1278.67" width="44.27" height="28.23"/>
<rect x="1322.53" y="1292.79" width="44.27" height="14.11"/>
</g>
<polyline clip-path="url(#c11)" points="835.6,1306.9 837.7,1306.9 839.8,1306.8 841.8,1306.7 843.9,1306.7 846.0,1306.6 848.1,1306.4 850.2,1306.3 852.2,1306.1 854.3,1305.9 856.4,1305.6 858.5,1305.3 860.5,1304.9 862.6,1304.5 864.7,1304.0 866.8,1303.4 868.9,1302.8 870.9,1302.1 873.0,1301.4 875.1,1300.6 877.2,1299.7 879.3,1298.7 881.3,1297.7 883.4,1296.6 885.5,1295.4 887.6,1294.2 889.7,1292.8 891.7,1291.3 893.8,1289.8 895.9,1288.1 898.0,1286.2 900.1,1284.3 902.1,1282.1 904.2,1279.8 906.3,1277.2 908.4,1274.5 910.4,1271.5 912.5,1268.4 914.6,1265.0 916.7,1261.4 918.8,1257.6 920.8,1253.7 922.9,1249.6 925.0,1245.4 927.1,1241.1 929.2,1236.7 931.2,1232.3 933.3,1227.9 935.4,1223.5 937.5,1219.0 939.6,1214.7 941.6,1210.3 943.7,1206.0 945.8,1201.7 947.9,1197.4 949.9,1193.2 952.0,1188.9 954.1,1184.6 956.2,1180.2 958.3,1175.8 960.3,1171.3 962.4,1166.7 964.5,1162.1 966.6,1157.4 968.7,1152.7 970.7,1147.9 972.8,1143.0 974.9,1138.1 977.0,1133.2 979.1,1128.2 981.1,1123.2 983.2,1118.2 985.3,1113.1 987.4,1107.8 989.5,1102.5 991.5,1097.0 993.6,1091.2 995.7,1085.3 997.8,1079.0 999.8,1072.4 1001.9,1065.5 1004.0,1058.2 1006.1,1050.6 1008.2,1042.6 1010.2,1034.2 1012.3,1025.6 1014.4,1016.6 1016.5,1007.3 1018.6,997.8 1020.6,988.0 1022.7,978.1 1024.8,968.0 1026.9,957.8 1029.0,947.5 1031.0,937.0 1033.1,926.5 1035.2,915.9 1037.3,905.3 1039.3,894.7 1041.4,884.1 1043.5,873.6 1045.6,863.4 1047.7,853.4 1049.7,843.9 1051.8,834.8 1053.9,826.5 1056.0,819.0 1058.1,812.5 1060.1,807.1 1062.2,803.0 1064.3,800.2 1066.4,798.9 1068.5,799.1 1070.5,800.7 1072.6,803.9 1074.7,808.4 1076.8,814.3 1078.9,821.4 1080.9,829.6 1083.0,838.7 1085.1,848.5 1087.2,858.9 1089.2,869.7 1091.3,880.7 1093.4,891.8 1095.5,902.8 1097.6,913.6 1099.6,924.1 1101.7,934.2 1103.8,943.8 1105.9,952.9 1108.0,961.4 1110.0,969.4 1112.1,976.8 1114.2,983.7 1116.3,990.1 1118.4,996.1 1120.4,1001.7 1122.5,1007.0 1124.6,1012.1 1126.7,1017.1 1128.7,1022.1 1130.8,1027.1 1132.9,1032.2 1135.0,1037.5 1137.1,1043.1 1139.1,1048.9 1141.2,1055.0 1143.3,1061.3 1145.4,1068.0 1147.5,1074.9 1149.5,1082.0 1151.6,1089.1 1153.7,1096.4 1155.8,1103.6 1157.9,1110.7 1159.9,1117.7 1162.0,1124.4 1164.1,1130.8 1166.2,1136.8 1168.2,1142.3 1170.3,1147.5 1172.4,1152.1 1174.5,1156.4 1176.6,1160.1 1178.6,1163.4 1180.7,1166.4 1182.8,1169.0 1184.9,1171.3 1187.0,1173.4 1189.0,1175.4 1191.1,1177.3 1193.2,1179.2 1195.3,1181.1 1197.4,1183.2 1199.4,1185.5 1201.5,1188.0 1203.6,1190.8 1205.7,1193.9 1207.8,1197.2 1209.8,1200.7 1211.9,1204.6 1214.0,1208.6 1216.1,1212.8 1218.1,1217.1 1220.2,1221.5 1222.3,1225.9 1224.4,1230.3 1226.5,1234.6 1228.5,1238.8 1230.6,1242.8 1232.7,1246.6 1234.8,1250.2 1236.9,1253.6 1238.9,1256.7 1241.0,1259.6 1243.1,1262.3 1245.2,1264.7 1247.3,1266.9 1249.3,1268.9 1251.4,1270.7 1253.5,1272.4 1255.6,1273.9 1257.6,1275.3 1259.7,1276.7 1261.8,1277.9 1263.9,1279.1 1266.0,1280.2 1268.0,1281.2 1270.1,1282.2 1272.2,1283.1 1274.3,1284.1 1276.4,1284.9 1278.4,1285.7 1280.5,1286.5 1282.6,1287.2 1284.7,1287.9 1286.8,1288.6 1288.8,1289.2 1290.9,1289.8 1293.0,1290.3 1295.1,1290.9 1297.2,1291.4 1299.2,1292.0 1301.3,1292.5 1303.4,1293.1 1305.5,1293.7 1307.5,1294.3 1309.6,1295.0 1311.7,1295.7 1313.8,1296.4 1315.9,1297.1 1317.9,1297.8 1320.0,1298.6 1322.1,1299.3 1324.2,1300.1 1326.3,1300.8 1328.3,1301.5 1330.4,1302.1 1332.5,1302.8 1334.6,1303.3 1336.7,1303.9 1338.7,1304.3 1340.8,1304.8 1342.9,1305.1 1345.0,1305.5 1347.0,1305.7 1349.1,1306.0 1351.2,1306.2 1353.3,1306.4 1355.4,1306.5 1357.4,1306.6 1359.5,1306.7 1361.6,1306.8 1363.7,1306.8 1365.8,1306.9" fill="none" stroke="#414182" stroke-width="6.4" stroke-linejoin="round" stroke-linecap="round"/>
<text x="1101.2" y="893.7" font-size="35.7" text-anchor="middle" fill="#000">Sepal.Width</text>
</g>
<g>
<rect x="1410.0" y="798.8" width="530.0" height="508.1" fill="none" stroke="#000" stroke-width="3.2"/>
<g clip-path="url(#c12)" fill="#0064FF" stroke="#fff" stroke-width="3.0">
<circle cx="1463.3" cy="994.8" r="7.5"/>
<circle cx="1463.3" cy="1092.9" r="7.5"/>
<circle cx="1455.0" cy="1053.6" r="7.5"/>
<circle cx="1471.6" cy="1073.3" r="7.5"/>
<circle cx="1463.3" cy="975.2" r="7.5"/>
<circle cx="1488.3" cy="916.4" r="7.5"/>
<circle cx="1463.3" cy="1014.4" r="7.5"/>
<circle cx="1471.6" cy="1014.4" r="7.5"/>
<circle cx="1463.3" cy="1112.5" r="7.5"/>
<circle cx="1471.6" cy="1073.3" r="7.5"/>
<circle cx="1471.6" cy="955.6" r="7.5"/>
<circle cx="1479.9" cy="1014.4" r="7.5"/>
<circle cx="1463.3" cy="1092.9" r="7.5"/>
<circle cx="1438.3" cy="1092.9" r="7.5"/>
<circle cx="1446.7" cy="896.8" r="7.5"/>
<circle cx="1471.6" cy="818.4" r="7.5"/>
<circle cx="1455.0" cy="916.4" r="7.5"/>
<circle cx="1463.3" cy="994.8" r="7.5"/>
<circle cx="1488.3" cy="936.0" r="7.5"/>
<circle cx="1471.6" cy="936.0" r="7.5"/>
<circle cx="1488.3" cy="1014.4" r="7.5"/>
<circle cx="1471.6" cy="955.6" r="7.5"/>
<circle cx="1430.0" cy="975.2" r="7.5"/>
<circle cx="1488.3" cy="1034.0" r="7.5"/>
<circle cx="1504.9" cy="1014.4" r="7.5"/>
<circle cx="1479.9" cy="1092.9" r="7.5"/>
<circle cx="1479.9" cy="1014.4" r="7.5"/>
<circle cx="1471.6" cy="994.8" r="7.5"/>
<circle cx="1463.3" cy="1014.4" r="7.5"/>
<circle cx="1479.9" cy="1053.6" r="7.5"/>
<circle cx="1479.9" cy="1073.3" r="7.5"/>
<circle cx="1471.6" cy="1014.4" r="7.5"/>
<circle cx="1471.6" cy="877.2" r="7.5"/>
<circle cx="1463.3" cy="857.6" r="7.5"/>
<circle cx="1471.6" cy="1073.3" r="7.5"/>
<circle cx="1446.7" cy="1053.6" r="7.5"/>
<circle cx="1455.0" cy="994.8" r="7.5"/>
<circle cx="1463.3" cy="975.2" r="7.5"/>
<circle cx="1455.0" cy="1092.9" r="7.5"/>
<circle cx="1471.6" cy="1014.4" r="7.5"/>
<circle cx="1455.0" cy="994.8" r="7.5"/>
<circle cx="1455.0" cy="1230.1" r="7.5"/>
<circle cx="1455.0" cy="1053.6" r="7.5"/>
<circle cx="1479.9" cy="994.8" r="7.5"/>
<circle cx="1504.9" cy="936.0" r="7.5"/>
<circle cx="1463.3" cy="1092.9" r="7.5"/>
<circle cx="1479.9" cy="936.0" r="7.5"/>
<circle cx="1463.3" cy="1053.6" r="7.5"/>
<circle cx="1471.6" cy="955.6" r="7.5"/>
<circle cx="1463.3" cy="1034.0" r="7.5"/>
<circle cx="1737.8" cy="1053.6" r="7.5"/>
<circle cx="1721.1" cy="1053.6" r="7.5"/>
<circle cx="1754.4" cy="1073.3" r="7.5"/>
<circle cx="1679.6" cy="1230.1" r="7.5"/>
<circle cx="1729.5" cy="1132.1" r="7.5"/>
<circle cx="1721.1" cy="1132.1" r="7.5"/>
<circle cx="1737.8" cy="1034.0" r="7.5"/>
<circle cx="1621.3" cy="1210.5" r="7.5"/>
<circle cx="1729.5" cy="1112.5" r="7.5"/>
<circle cx="1671.2" cy="1151.7" r="7.5"/>
<circle cx="1638.0" cy="1288.9" r="7.5"/>
<circle cx="1696.2" cy="1092.9" r="7.5"/>
<circle cx="1679.6" cy="1249.7" r="7.5"/>
<circle cx="1737.8" cy="1112.5" r="7.5"/>
<circle cx="1646.3" cy="1112.5" r="7.5"/>
<circle cx="1712.8" cy="1073.3" r="7.5"/>
<circle cx="1721.1" cy="1092.9" r="7.5"/>
<circle cx="1687.9" cy="1151.7" r="7.5"/>
<circle cx="1721.1" cy="1249.7" r="7.5"/>
<circle cx="1671.2" cy="1190.9" r="7.5"/>
<circle cx="1746.1" cy="1053.6" r="7.5"/>
<circle cx="1679.6" cy="1132.1" r="7.5"/>
<circle cx="1754.4" cy="1190.9" r="7.5"/>
<circle cx="1737.8" cy="1132.1" r="7.5"/>
<circle cx="1704.5" cy="1112.5" r="7.5"/>
<circle cx="1712.8" cy="1092.9" r="7.5"/>
<circle cx="1746.1" cy="1132.1" r="7.5"/>
<circle cx="1762.7" cy="1092.9" r="7.5"/>
<circle cx="1721.1" cy="1112.5" r="7.5"/>
<circle cx="1638.0" cy="1171.3" r="7.5"/>
<circle cx="1662.9" cy="1210.5" r="7.5"/>
<circle cx="1654.6" cy="1210.5" r="7.5"/>
<circle cx="1671.2" cy="1151.7" r="7.5"/>
<circle cx="1771.1" cy="1151.7" r="7.5"/>
<circle cx="1721.1" cy="1092.9" r="7.5"/>
<circle cx="1721.1" cy="1014.4" r="7.5"/>
<circle cx="1737.8" cy="1073.3" r="7.5"/>
<circle cx="1712.8" cy="1230.1" r="7.5"/>
<circle cx="1687.9" cy="1092.9" r="7.5"/>
<circle cx="1679.6" cy="1190.9" r="7.5"/>
<circle cx="1712.8" cy="1171.3" r="7.5"/>
<circle cx="1729.5" cy="1092.9" r="7.5"/>
<circle cx="1679.6" cy="1171.3" r="7.5"/>
<circle cx="1621.3" cy="1230.1" r="7.5"/>
<circle cx="1696.2" cy="1151.7" r="7.5"/>
<circle cx="1696.2" cy="1092.9" r="7.5"/>
<circle cx="1696.2" cy="1112.5" r="7.5"/>
<circle cx="1704.5" cy="1112.5" r="7.5"/>
<circle cx="1596.4" cy="1190.9" r="7.5"/>
<circle cx="1687.9" cy="1132.1" r="7.5"/>
<circle cx="1845.9" cy="1034.0" r="7.5"/>
<circle cx="1771.1" cy="1151.7" r="7.5"/>
<circle cx="1837.6" cy="1092.9" r="7.5"/>
<circle cx="1812.6" cy="1112.5" r="7.5"/>
<circle cx="1829.3" cy="1092.9" r="7.5"/>
<circle cx="1895.8" cy="1092.9" r="7.5"/>
<circle cx="1721.1" cy="1190.9" r="7.5"/>
<circle cx="1870.9" cy="1112.5" r="7.5"/>
<circle cx="1829.3" cy="1190.9" r="7.5"/>
<circle cx="1854.2" cy="975.2" r="7.5"/>
<circle cx="1771.1" cy="1053.6" r="7.5"/>
<circle cx="1787.7" cy="1151.7" r="7.5"/>
<circle cx="1804.3" cy="1092.9" r="7.5"/>
<circle cx="1762.7" cy="1190.9" r="7.5"/>
<circle cx="1771.1" cy="1132.1" r="7.5"/>
<circle cx="1787.7" cy="1053.6" r="7.5"/>
<circle cx="1804.3" cy="1092.9" r="7.5"/>
<circle cx="1904.1" cy="936.0" r="7.5"/>
<circle cx="1920.8" cy="1171.3" r="7.5"/>
<circle cx="1762.7" cy="1249.7" r="7.5"/>
<circle cx="1821.0" cy="1053.6" r="7.5"/>
<circle cx="1754.4" cy="1132.1" r="7.5"/>
<circle cx="1904.1" cy="1132.1" r="7.5"/>
<circle cx="1754.4" cy="1151.7" r="7.5"/>
<circle cx="1821.0" cy="1034.0" r="7.5"/>
<circle cx="1845.9" cy="1053.6" r="7.5"/>
<circle cx="1746.1" cy="1132.1" r="7.5"/>
<circle cx="1754.4" cy="1092.9" r="7.5"/>
<circle cx="1812.6" cy="1132.1" r="7.5"/>
<circle cx="1829.3" cy="1092.9" r="7.5"/>
<circle cx="1854.2" cy="1132.1" r="7.5"/>
<circle cx="1879.2" cy="936.0" r="7.5"/>
<circle cx="1812.6" cy="1132.1" r="7.5"/>
<circle cx="1771.1" cy="1132.1" r="7.5"/>
<circle cx="1812.6" cy="1171.3" r="7.5"/>
<circle cx="1854.2" cy="1092.9" r="7.5"/>
<circle cx="1812.6" cy="1014.4" r="7.5"/>
<circle cx="1804.3" cy="1073.3" r="7.5"/>
<circle cx="1746.1" cy="1092.9" r="7.5"/>
<circle cx="1796.0" cy="1073.3" r="7.5"/>
<circle cx="1812.6" cy="1073.3" r="7.5"/>
<circle cx="1771.1" cy="1073.3" r="7.5"/>
<circle cx="1771.1" cy="1151.7" r="7.5"/>
<circle cx="1837.6" cy="1053.6" r="7.5"/>
<circle cx="1821.0" cy="1034.0" r="7.5"/>
<circle cx="1779.4" cy="1092.9" r="7.5"/>
<circle cx="1762.7" cy="1190.9" r="7.5"/>
<circle cx="1779.4" cy="1092.9" r="7.5"/>
<circle cx="1796.0" cy="1014.4" r="7.5"/>
<circle cx="1771.1" cy="1092.9" r="7.5"/>
</g>
<line clip-path="url(#c12)" x1="1410.0" y1="1018.7" x2="1940.0" y2="1150.9" stroke="#6E2E9A" stroke-width="3"/>
</g>
<g>
<rect x="1984.0" y="798.8" width="530.5" height="508.1" fill="none" stroke="#000" stroke-width="3.2"/>
<g clip-path="url(#c13)" fill="#0064FF" stroke="#fff" stroke-width="3.0">
<circle cx="2024.5" cy="994.8" r="7.5"/>
<circle cx="2024.5" cy="1092.9" r="7.5"/>
<circle cx="2024.5" cy="1053.6" r="7.5"/>
<circle cx="2024.5" cy="1073.3" r="7.5"/>
<circle cx="2024.5" cy="975.2" r="7.5"/>
<circle cx="2065.4" cy="916.4" r="7.5"/>
<circle cx="2045.0" cy="1014.4" r="7.5"/>
<circle cx="2024.5" cy="1014.4" r="7.5"/>
<circle cx="2024.5" cy="1112.5" r="7.5"/>
<circle cx="2004.0" cy="1073.3" r="7.5"/>
<circle cx="2024.5" cy="955.6" r="7.5"/>
<circle cx="2024.5" cy="1014.4" r="7.5"/>
<circle cx="2004.0" cy="1092.9" r="7.5"/>
<circle cx="2004.0" cy="1092.9" r="7.5"/>
<circle cx="2024.5" cy="896.8" r="7.5"/>
<circle cx="2065.4" cy="818.4" r="7.5"/>
<circle cx="2065.4" cy="916.4" r="7.5"/>
<circle cx="2045.0" cy="994.8" r="7.5"/>
<circle cx="2045.0" cy="936.0" r="7.5"/>
<circle cx="2045.0" cy="936.0" r="7.5"/>
<circle cx="2024.5" cy="1014.4" r="7.5"/>
<circle cx="2065.4" cy="955.6" r="7.5"/>
<circle cx="2024.5" cy="975.2" r="7.5"/>
<circle cx="2085.9" cy="1034.0" r="7.5"/>
<circle cx="2024.5" cy="1014.4" r="7.5"/>
<circle cx="2024.5" cy="1092.9" r="7.5"/>
<circle cx="2065.4" cy="1014.4" r="7.5"/>
<circle cx="2024.5" cy="994.8" r="7.5"/>
<circle cx="2024.5" cy="1014.4" r="7.5"/>
<circle cx="2024.5" cy="1053.6" r="7.5"/>
<circle cx="2024.5" cy="1073.3" r="7.5"/>
<circle cx="2065.4" cy="1014.4" r="7.5"/>
<circle cx="2004.0" cy="877.2" r="7.5"/>
<circle cx="2024.5" cy="857.6" r="7.5"/>
<circle cx="2024.5" cy="1073.3" r="7.5"/>
<circle cx="2024.5" cy="1053.6" r="7.5"/>
<circle cx="2024.5" cy="994.8" r="7.5"/>
<circle cx="2004.0" cy="975.2" r="7.5"/>
<circle cx="2024.5" cy="1092.9" r="7.5"/>
<circle cx="2024.5" cy="1014.4" r="7.5"/>
<circle cx="2045.0" cy="994.8" r="7.5"/>
<circle cx="2045.0" cy="1230.1" r="7.5"/>
<circle cx="2024.5" cy="1053.6" r="7.5"/>
<circle cx="2106.4" cy="994.8" r="7.5"/>
<circle cx="2065.4" cy="936.0" r="7.5"/>
<circle cx="2045.0" cy="1092.9" r="7.5"/>
<circle cx="2024.5" cy="936.0" r="7.5"/>
<circle cx="2024.5" cy="1053.6" r="7.5"/>
<circle cx="2024.5" cy="955.6" r="7.5"/>
<circle cx="2024.5" cy="1034.0" r="7.5"/>
<circle cx="2270.1" cy="1053.6" r="7.5"/>
<circle cx="2290.6" cy="1053.6" r="7.5"/>
<circle cx="2290.6" cy="1073.3" r="7.5"/>
<circle cx="2249.7" cy="1230.1" r="7.5"/>
<circle cx="2290.6" cy="1132.1" r="7.5"/>
<circle cx="2249.7" cy="1132.1" r="7.5"/>
<circle cx="2311.1" cy="1034.0" r="7.5"/>
<circle cx="2188.2" cy="1210.5" r="7.5"/>
<circle cx="2249.7" cy="1112.5" r="7.5"/>
<circle cx="2270.1" cy="1151.7" r="7.5"/>
<circle cx="2188.2" cy="1288.9" r="7.5"/>
<circle cx="2290.6" cy="1092.9" r="7.5"/>
<circle cx="2188.2" cy="1249.7" r="7.5"/>
<circle cx="2270.1" cy="1112.5" r="7.5"/>
<circle cx="2249.7" cy="1112.5" r="7.5"/>
<circle cx="2270.1" cy="1073.3" r="7.5"/>
<circle cx="2290.6" cy="1092.9" r="7.5"/>
<circle cx="2188.2" cy="1151.7" r="7.5"/>
<circle cx="2290.6" cy="1249.7" r="7.5"/>
<circle cx="2208.7" cy="1190.9" r="7.5"/>
<circle cx="2352.0" cy="1053.6" r="7.5"/>
<circle cx="2249.7" cy="1132.1" r="7.5"/>
<circle cx="2290.6" cy="1190.9" r="7.5"/>
<circle cx="2229.2" cy="1132.1" r="7.5"/>
<circle cx="2249.7" cy="1112.5" r="7.5"/>
<circle cx="2270.1" cy="1092.9" r="7.5"/>
<circle cx="2270.1" cy="1132.1" r="7.5"/>
<circle cx="2331.5" cy="1092.9" r="7.5"/>
<circle cx="2290.6" cy="1112.5" r="7.5"/>
<circle cx="2188.2" cy="1171.3" r="7.5"/>
<circle cx="2208.7" cy="1210.5" r="7.5"/>
<circle cx="2188.2" cy="1210.5" r="7.5"/>
<circle cx="2229.2" cy="1151.7" r="7.5"/>
<circle cx="2311.1" cy="1151.7" r="7.5"/>
<circle cx="2290.6" cy="1092.9" r="7.5"/>
<circle cx="2311.1" cy="1014.4" r="7.5"/>
<circle cx="2290.6" cy="1073.3" r="7.5"/>
<circle cx="2249.7" cy="1230.1" r="7.5"/>
<circle cx="2249.7" cy="1092.9" r="7.5"/>
<circle cx="2249.7" cy="1190.9" r="7.5"/>
<circle cx="2229.2" cy="1171.3" r="7.5"/>
<circle cx="2270.1" cy="1092.9" r="7.5"/>
<circle cx="2229.2" cy="1171.3" r="7.5"/>
<circle cx="2188.2" cy="1230.1" r="7.5"/>
<circle cx="2249.7" cy="1151.7" r="7.5"/>
<circle cx="2229.2" cy="1092.9" r="7.5"/>
<circle cx="2249.7" cy="1112.5" r="7.5"/>
<circle cx="2249.7" cy="1112.5" r="7.5"/>
<circle cx="2208.7" cy="1190.9" r="7.5"/>
<circle cx="2249.7" cy="1132.1" r="7.5"/>
<circle cx="2495.3" cy="1034.0" r="7.5"/>
<circle cx="2372.5" cy="1151.7" r="7.5"/>
<circle cx="2413.4" cy="1092.9" r="7.5"/>
<circle cx="2352.0" cy="1112.5" r="7.5"/>
<circle cx="2433.9" cy="1092.9" r="7.5"/>
<circle cx="2413.4" cy="1092.9" r="7.5"/>
<circle cx="2331.5" cy="1190.9" r="7.5"/>
<circle cx="2352.0" cy="1112.5" r="7.5"/>
<circle cx="2352.0" cy="1190.9" r="7.5"/>
<circle cx="2495.3" cy="975.2" r="7.5"/>
<circle cx="2392.9" cy="1053.6" r="7.5"/>
<circle cx="2372.5" cy="1151.7" r="7.5"/>
<circle cx="2413.4" cy="1092.9" r="7.5"/>
<circle cx="2392.9" cy="1190.9" r="7.5"/>
<circle cx="2474.8" cy="1132.1" r="7.5"/>
<circle cx="2454.3" cy="1053.6" r="7.5"/>
<circle cx="2352.0" cy="1092.9" r="7.5"/>
<circle cx="2433.9" cy="936.0" r="7.5"/>
<circle cx="2454.3" cy="1171.3" r="7.5"/>
<circle cx="2290.6" cy="1249.7" r="7.5"/>
<circle cx="2454.3" cy="1053.6" r="7.5"/>
<circle cx="2392.9" cy="1132.1" r="7.5"/>
<circle cx="2392.9" cy="1132.1" r="7.5"/>
<circle cx="2352.0" cy="1151.7" r="7.5"/>
<circle cx="2413.4" cy="1034.0" r="7.5"/>
<circle cx="2352.0" cy="1053.6" r="7.5"/>
<circle cx="2352.0" cy="1132.1" r="7.5"/>
<circle cx="2352.0" cy="1092.9" r="7.5"/>
<circle cx="2413.4" cy="1132.1" r="7.5"/>
<circle cx="2311.1" cy="1092.9" r="7.5"/>
<circle cx="2372.5" cy="1132.1" r="7.5"/>
<circle cx="2392.9" cy="936.0" r="7.5"/>
<circle cx="2433.9" cy="1132.1" r="7.5"/>
<circle cx="2290.6" cy="1132.1" r="7.5"/>
<circle cx="2270.1" cy="1171.3" r="7.5"/>
<circle cx="2454.3" cy="1092.9" r="7.5"/>
<circle cx="2474.8" cy="1014.4" r="7.5"/>
<circle cx="2352.0" cy="1073.3" r="7.5"/>
<circle cx="2352.0" cy="1092.9" r="7.5"/>
<circle cx="2413.4" cy="1073.3" r="7.5"/>
<circle cx="2474.8" cy="1073.3" r="7.5"/>
<circle cx="2454.3" cy="1073.3" r="7.5"/>
<circle cx="2372.5" cy="1151.7" r="7.5"/>
<circle cx="2454.3" cy="1053.6" r="7.5"/>
<circle cx="2495.3" cy="1034.0" r="7.5"/>
<circle cx="2454.3" cy="1092.9" r="7.5"/>
<circle cx="2372.5" cy="1190.9" r="7.5"/>
<circle cx="2392.9" cy="1092.9" r="7.5"/>
<circle cx="2454.3" cy="1014.4" r="7.5"/>
<circle cx="2352.0" cy="1092.9" r="7.5"/>
</g>
<line clip-path="url(#c13)" x1="1984.0" y1="1031.8" x2="2514.5" y2="1138.1" stroke="#6E2E9A" stroke-width="3"/>
</g>
<g>
<rect x="262.1" y="1351.2" width="530.0" height="507.6" fill="none" stroke="#000" stroke-width="3.2"/>
<text transform="translate(527.1 1633.0) scale(0.975 1)" font-size="77" font-weight="bold" text-anchor="middle" fill="#05126B" xml:space="preserve" style="white-space:pre">0.87 <tspan font-size="68.8" dx="1.5" dy="-7.8" letter-spacing="4.44">***</tspan></text>
</g>
<g>
<rect x="835.6" y="1351.2" width="531.2" height="507.6" fill="none" stroke="#000" stroke-width="3.2"/>
<text transform="translate(1101.2 1633.0) scale(0.975 1)" font-size="77" font-weight="bold" text-anchor="middle" fill="#05126B" xml:space="preserve" style="white-space:pre">-0.43 <tspan font-size="68.8" dx="1.5" dy="-7.8" letter-spacing="4.44">***</tspan></text>
</g>
<g>
<rect x="1410.0" y="1351.2" width="530.0" height="507.6" fill="none" stroke="#000" stroke-width="3.2"/>
<g clip-path="url(#c22)" fill="#FF0025" stroke="#fff" stroke-width="3.2">
<rect x="1410.00" y="1351.20" width="44.17" height="507.60"/>
<rect x="1454.17" y="1680.45" width="44.17" height="178.35"/>
<path d="M1498.33 1858.80H1542.50" fill="none"/>
<rect x="1542.50" y="1845.08" width="44.17" height="13.72"/>
<rect x="1586.67" y="1803.92" width="44.17" height="54.88"/>
<rect x="1630.83" y="1707.89" width="44.17" height="150.91"/>
<rect x="1675.00" y="1570.70" width="44.17" height="288.10"/>
<rect x="1719.17" y="1570.70" width="44.17" height="288.10"/>
<rect x="1763.33" y="1625.58" width="44.17" height="233.22"/>
<rect x="1807.50" y="1639.30" width="44.17" height="219.50"/>
<rect x="1851.67" y="1790.21" width="44.17" height="68.59"/>
<rect x="1895.83" y="1803.92" width="44.17" height="54.88"/>
</g>
<polyline clip-path="url(#c22)" points="1410.0,1858.4 1412.1,1858.3 1414.1,1858.1 1416.2,1857.9 1418.3,1857.6 1420.4,1857.3 1422.4,1857.0 1424.5,1856.5 1426.6,1856.0 1428.7,1855.4 1430.7,1854.7 1432.8,1853.8 1434.9,1852.8 1437.0,1851.6 1439.0,1850.3 1441.1,1848.7 1443.2,1846.9 1445.3,1844.8 1447.3,1842.4 1449.4,1839.7 1451.5,1836.6 1453.6,1833.1 1455.6,1829.1 1457.7,1824.7 1459.8,1819.8 1461.9,1814.3 1463.9,1808.3 1466.0,1801.6 1468.1,1794.4 1470.2,1786.4 1472.2,1777.8 1474.3,1768.5 1476.4,1758.5 1478.5,1747.8 1480.5,1736.4 1482.6,1724.3 1484.7,1711.6 1486.8,1698.2 1488.8,1684.3 1490.9,1669.9 1493.0,1655.1 1495.0,1639.9 1497.1,1624.4 1499.2,1608.7 1501.3,1593.0 1503.3,1577.3 1505.4,1561.8 1507.5,1546.5 1509.6,1531.7 1511.6,1517.5 1513.7,1503.9 1515.8,1491.2 1517.9,1479.3 1519.9,1468.6 1522.0,1459.0 1524.1,1450.6 1526.2,1443.7 1528.2,1438.1 1530.3,1434.0 1532.4,1431.4 1534.5,1430.4 1536.5,1430.9 1538.6,1433.0 1540.7,1436.6 1542.8,1441.7 1544.8,1448.2 1546.9,1456.0 1549.0,1465.1 1551.1,1475.4 1553.1,1486.6 1555.2,1498.8 1557.3,1511.8 1559.4,1525.4 1561.4,1539.6 1563.5,1554.1 1565.6,1568.9 1567.7,1583.8 1569.7,1598.6 1571.8,1613.4 1573.9,1627.8 1575.9,1641.9 1578.0,1655.5 1580.1,1668.6 1582.2,1681.0 1584.2,1692.7 1586.3,1703.6 1588.4,1713.7 1590.5,1723.0 1592.5,1731.4 1594.6,1738.9 1596.7,1745.4 1598.8,1751.1 1600.8,1755.8 1602.9,1759.6 1605.0,1762.5 1607.1,1764.5 1609.1,1765.7 1611.2,1766.0 1613.3,1765.5 1615.4,1764.2 1617.4,1762.1 1619.5,1759.3 1621.6,1755.8 1623.7,1751.7 1625.7,1746.8 1627.8,1741.4 1629.9,1735.3 1632.0,1728.7 1634.0,1721.6 1636.1,1713.9 1638.2,1705.8 1640.3,1697.1 1642.3,1688.1 1644.4,1678.6 1646.5,1668.7 1648.6,1658.5 1650.6,1648.0 1652.7,1637.2 1654.8,1626.1 1656.8,1614.8 1658.9,1603.2 1661.0,1591.5 1663.1,1579.7 1665.1,1567.8 1667.2,1555.9 1669.3,1543.9 1671.4,1531.9 1673.4,1520.1 1675.5,1508.3 1677.6,1496.7 1679.7,1485.3 1681.7,1474.1 1683.8,1463.2 1685.9,1452.6 1688.0,1442.4 1690.0,1432.5 1692.1,1423.1 1694.2,1414.2 1696.3,1405.8 1698.3,1397.9 1700.4,1390.5 1702.5,1383.7 1704.6,1377.6 1706.6,1372.0 1708.7,1367.1 1710.8,1362.9 1712.9,1359.3 1714.9,1356.3 1717.0,1354.0 1719.1,1352.4 1721.2,1351.5 1723.2,1351.2 1725.3,1351.6 1727.4,1352.5 1729.5,1354.1 1731.5,1356.3 1733.6,1359.1 1735.7,1362.5 1737.7,1366.4 1739.8,1370.8 1741.9,1375.7 1744.0,1381.1 1746.0,1387.0 1748.1,1393.3 1750.2,1400.0 1752.3,1407.0 1754.3,1414.5 1756.4,1422.2 1758.5,1430.3 1760.6,1438.7 1762.6,1447.3 1764.7,1456.2 1766.8,1465.3 1768.9,1474.6 1770.9,1484.0 1773.0,1493.7 1775.1,1503.5 1777.2,1513.4 1779.2,1523.3 1781.3,1533.4 1783.4,1543.5 1785.5,1553.7 1787.5,1563.8 1789.6,1573.9 1791.7,1584.0 1793.8,1594.1 1795.8,1604.1 1797.9,1614.0 1800.0,1623.8 1802.1,1633.4 1804.1,1642.9 1806.2,1652.3 1808.3,1661.5 1810.4,1670.5 1812.4,1679.3 1814.5,1687.8 1816.6,1696.2 1818.6,1704.4 1820.7,1712.3 1822.8,1720.0 1824.9,1727.4 1826.9,1734.6 1829.0,1741.6 1831.1,1748.3 1833.2,1754.8 1835.2,1761.0 1837.3,1767.0 1839.4,1772.8 1841.5,1778.3 1843.5,1783.6 1845.6,1788.6 1847.7,1793.5 1849.8,1798.1 1851.8,1802.4 1853.9,1806.6 1856.0,1810.6 1858.1,1814.3 1860.1,1817.9 1862.2,1821.2 1864.3,1824.3 1866.4,1827.3 1868.4,1830.1 1870.5,1832.7 1872.6,1835.1 1874.7,1837.4 1876.7,1839.5 1878.8,1841.4 1880.9,1843.2 1883.0,1844.8 1885.0,1846.3 1887.1,1847.7 1889.2,1849.0 1891.3,1850.1 1893.3,1851.2 1895.4,1852.1 1897.5,1853.0 1899.5,1853.7 1901.6,1854.4 1903.7,1855.0 1905.8,1855.5 1907.8,1856.0 1909.9,1856.4 1912.0,1856.8 1914.1,1857.1 1916.1,1857.4 1918.2,1857.6 1920.3,1857.8 1922.4,1858.0 1924.4,1858.2 1926.5,1858.3 1928.6,1858.4 1930.7,1858.5 1932.7,1858.6 1934.8,1858.7 1936.9,1858.7 1939.0,1858.8" fill="none" stroke="#414182" stroke-width="6.4" stroke-linejoin="round" stroke-linecap="round"/>
<text x="1675.0" y="1445.9" font-size="35.7" text-anchor="middle" fill="#000">Petal.Length</text>
</g>
<g>
<rect x="1984.0" y="1351.2" width="530.5" height="507.6" fill="none" stroke="#000" stroke-width="3.2"/>
<g clip-path="url(#c23)" fill="#0064FF" stroke="#fff" stroke-width="3.0">
<circle cx="2024.5" cy="1808.9" r="7.5"/>
<circle cx="2024.5" cy="1808.9" r="7.5"/>
<circle cx="2024.5" cy="1816.9" r="7.5"/>
<circle cx="2024.5" cy="1801.0" r="7.5"/>
<circle cx="2024.5" cy="1808.9" r="7.5"/>
<circle cx="2065.4" cy="1785.0" r="7.5"/>
<circle cx="2045.0" cy="1808.9" r="7.5"/>
<circle cx="2024.5" cy="1801.0" r="7.5"/>
<circle cx="2024.5" cy="1808.9" r="7.5"/>
<circle cx="2004.0" cy="1801.0" r="7.5"/>
<circle cx="2024.5" cy="1801.0" r="7.5"/>
<circle cx="2024.5" cy="1793.0" r="7.5"/>
<circle cx="2004.0" cy="1808.9" r="7.5"/>
<circle cx="2004.0" cy="1832.8" r="7.5"/>
<circle cx="2024.5" cy="1824.9" r="7.5"/>
<circle cx="2065.4" cy="1801.0" r="7.5"/>
<circle cx="2065.4" cy="1816.9" r="7.5"/>
<circle cx="2045.0" cy="1808.9" r="7.5"/>
<circle cx="2045.0" cy="1785.0" r="7.5"/>
<circle cx="2045.0" cy="1801.0" r="7.5"/>
<circle cx="2024.5" cy="1785.0" r="7.5"/>
<circle cx="2065.4" cy="1801.0" r="7.5"/>
<circle cx="2024.5" cy="1840.8" r="7.5"/>
<circle cx="2085.9" cy="1785.0" r="7.5"/>
<circle cx="2024.5" cy="1769.1" r="7.5"/>
<circle cx="2024.5" cy="1793.0" r="7.5"/>
<circle cx="2065.4" cy="1793.0" r="7.5"/>
<circle cx="2024.5" cy="1801.0" r="7.5"/>
<circle cx="2024.5" cy="1808.9" r="7.5"/>
<circle cx="2024.5" cy="1793.0" r="7.5"/>
<circle cx="2024.5" cy="1793.0" r="7.5"/>
<circle cx="2065.4" cy="1801.0" r="7.5"/>
<circle cx="2004.0" cy="1801.0" r="7.5"/>
<circle cx="2024.5" cy="1808.9" r="7.5"/>
<circle cx="2024.5" cy="1801.0" r="7.5"/>
<circle cx="2024.5" cy="1824.9" r="7.5"/>
<circle cx="2024.5" cy="1816.9" r="7.5"/>
<circle cx="2004.0" cy="1808.9" r="7.5"/>
<circle cx="2024.5" cy="1816.9" r="7.5"/>
<circle cx="2024.5" cy="1801.0" r="7.5"/>
<circle cx="2045.0" cy="1816.9" r="7.5"/>
<circle cx="2045.0" cy="1816.9" r="7.5"/>
<circle cx="2024.5" cy="1816.9" r="7.5"/>
<circle cx="2106.4" cy="1793.0" r="7.5"/>
<circle cx="2065.4" cy="1769.1" r="7.5"/>
<circle cx="2045.0" cy="1808.9" r="7.5"/>
<circle cx="2024.5" cy="1793.0" r="7.5"/>
<circle cx="2024.5" cy="1808.9" r="7.5"/>
<circle cx="2024.5" cy="1801.0" r="7.5"/>
<circle cx="2024.5" cy="1808.9" r="7.5"/>
<circle cx="2270.1" cy="1546.1" r="7.5"/>
<circle cx="2290.6" cy="1562.0" r="7.5"/>
<circle cx="2290.6" cy="1530.1" r="7.5"/>
<circle cx="2249.7" cy="1601.8" r="7.5"/>
<circle cx="2290.6" cy="1554.0" r="7.5"/>
<circle cx="2249.7" cy="1562.0" r="7.5"/>
<circle cx="2311.1" cy="1546.1" r="7.5"/>
<circle cx="2188.2" cy="1657.6" r="7.5"/>
<circle cx="2249.7" cy="1554.0" r="7.5"/>
<circle cx="2270.1" cy="1609.8" r="7.5"/>
<circle cx="2188.2" cy="1641.6" r="7.5"/>
<circle cx="2290.6" cy="1585.9" r="7.5"/>
<circle cx="2188.2" cy="1601.8" r="7.5"/>
<circle cx="2270.1" cy="1546.1" r="7.5"/>
<circle cx="2249.7" cy="1633.7" r="7.5"/>
<circle cx="2270.1" cy="1570.0" r="7.5"/>
<circle cx="2290.6" cy="1562.0" r="7.5"/>
<circle cx="2188.2" cy="1593.9" r="7.5"/>
<circle cx="2290.6" cy="1562.0" r="7.5"/>
<circle cx="2208.7" cy="1609.8" r="7.5"/>
<circle cx="2352.0" cy="1538.1" r="7.5"/>
<circle cx="2249.7" cy="1601.8" r="7.5"/>
<circle cx="2290.6" cy="1530.1" r="7.5"/>
<circle cx="2229.2" cy="1546.1" r="7.5"/>
<circle cx="2249.7" cy="1577.9" r="7.5"/>
<circle cx="2270.1" cy="1570.0" r="7.5"/>
<circle cx="2270.1" cy="1538.1" r="7.5"/>
<circle cx="2331.5" cy="1522.2" r="7.5"/>
<circle cx="2290.6" cy="1562.0" r="7.5"/>
<circle cx="2188.2" cy="1641.6" r="7.5"/>
<circle cx="2208.7" cy="1617.7" r="7.5"/>
<circle cx="2188.2" cy="1625.7" r="7.5"/>
<circle cx="2229.2" cy="1609.8" r="7.5"/>
<circle cx="2311.1" cy="1514.2" r="7.5"/>
<circle cx="2290.6" cy="1562.0" r="7.5"/>
<circle cx="2311.1" cy="1562.0" r="7.5"/>
<circle cx="2290.6" cy="1546.1" r="7.5"/>
<circle cx="2249.7" cy="1570.0" r="7.5"/>
<circle cx="2249.7" cy="1593.9" r="7.5"/>
<circle cx="2249.7" cy="1601.8" r="7.5"/>
<circle cx="2229.2" cy="1570.0" r="7.5"/>
<circle cx="2270.1" cy="1554.0" r="7.5"/>
<circle cx="2229.2" cy="1601.8" r="7.5"/>
<circle cx="2188.2" cy="1657.6" r="7.5"/>
<circle cx="2249.7" cy="1585.9" r="7.5"/>
<circle cx="2229.2" cy="1585.9" r="7.5"/>
<circle cx="2249.7" cy="1585.9" r="7.5"/>
<circle cx="2249.7" cy="1577.9" r="7.5"/>
<circle cx="2208.7" cy="1681.5" r="7.5"/>
<circle cx="2249.7" cy="1593.9" r="7.5"/>
<circle cx="2495.3" cy="1442.5" r="7.5"/>
<circle cx="2372.5" cy="1514.2" r="7.5"/>
<circle cx="2413.4" cy="1450.5" r="7.5"/>
<circle cx="2352.0" cy="1474.4" r="7.5"/>
<circle cx="2433.9" cy="1458.4" r="7.5"/>
<circle cx="2413.4" cy="1394.7" r="7.5"/>
<circle cx="2331.5" cy="1562.0" r="7.5"/>
<circle cx="2352.0" cy="1418.6" r="7.5"/>
<circle cx="2352.0" cy="1458.4" r="7.5"/>
<circle cx="2495.3" cy="1434.5" r="7.5"/>
<circle cx="2392.9" cy="1514.2" r="7.5"/>
<circle cx="2372.5" cy="1498.3" r="7.5"/>
<circle cx="2413.4" cy="1482.3" r="7.5"/>
<circle cx="2392.9" cy="1522.2" r="7.5"/>
<circle cx="2474.8" cy="1514.2" r="7.5"/>
<circle cx="2454.3" cy="1498.3" r="7.5"/>
<circle cx="2352.0" cy="1482.3" r="7.5"/>
<circle cx="2433.9" cy="1386.7" r="7.5"/>
<circle cx="2454.3" cy="1370.8" r="7.5"/>
<circle cx="2290.6" cy="1522.2" r="7.5"/>
<circle cx="2454.3" cy="1466.4" r="7.5"/>
<circle cx="2392.9" cy="1530.1" r="7.5"/>
<circle cx="2392.9" cy="1386.7" r="7.5"/>
<circle cx="2352.0" cy="1530.1" r="7.5"/>
<circle cx="2413.4" cy="1466.4" r="7.5"/>
<circle cx="2352.0" cy="1442.5" r="7.5"/>
<circle cx="2352.0" cy="1538.1" r="7.5"/>
<circle cx="2352.0" cy="1530.1" r="7.5"/>
<circle cx="2413.4" cy="1474.4" r="7.5"/>
<circle cx="2311.1" cy="1458.4" r="7.5"/>
<circle cx="2372.5" cy="1434.5" r="7.5"/>
<circle cx="2392.9" cy="1410.6" r="7.5"/>
<circle cx="2433.9" cy="1474.4" r="7.5"/>
<circle cx="2290.6" cy="1514.2" r="7.5"/>
<circle cx="2270.1" cy="1474.4" r="7.5"/>
<circle cx="2454.3" cy="1434.5" r="7.5"/>
<circle cx="2474.8" cy="1474.4" r="7.5"/>
<circle cx="2352.0" cy="1482.3" r="7.5"/>
<circle cx="2352.0" cy="1538.1" r="7.5"/>
<circle cx="2413.4" cy="1490.3" r="7.5"/>
<circle cx="2474.8" cy="1474.4" r="7.5"/>
<circle cx="2454.3" cy="1514.2" r="7.5"/>
<circle cx="2372.5" cy="1514.2" r="7.5"/>
<circle cx="2454.3" cy="1450.5" r="7.5"/>
<circle cx="2495.3" cy="1466.4" r="7.5"/>
<circle cx="2454.3" cy="1506.2" r="7.5"/>
<circle cx="2372.5" cy="1522.2" r="7.5"/>
<circle cx="2392.9" cy="1506.2" r="7.5"/>
<circle cx="2454.3" cy="1490.3" r="7.5"/>
<circle cx="2352.0" cy="1514.2" r="7.5"/>
</g>
<line clip-path="url(#c23)" x1="1984.0" y1="1832.6" x2="2514.5" y2="1372.2" stroke="#6E2E9A" stroke-width="3"/>
</g>
<g>
<rect x="262.1" y="1903.6" width="530.0" height="507.8" fill="none" stroke="#000" stroke-width="3.2"/>
<text transform="translate(527.1 2185.5) scale(0.975 1)" font-size="77" font-weight="bold" text-anchor="middle" fill="#05126B" xml:space="preserve" style="white-space:pre">0.82 <tspan font-size="68.8" dx="1.5" dy="-7.8" letter-spacing="4.44">***</tspan></text>
</g>
<g>
<rect x="835.6" y="1903.6" width="531.2" height="507.8" fill="none" stroke="#000" stroke-width="3.2"/>
<text transform="translate(1101.2 2185.5) scale(0.975 1)" font-size="77" font-weight="bold" text-anchor="middle" fill="#05126B" xml:space="preserve" style="white-space:pre">-0.37 <tspan font-size="68.8" dx="1.5" dy="-7.8" letter-spacing="4.44">***</tspan></text>
</g>
<g>
<rect x="1410.0" y="1903.6" width="530.0" height="507.8" fill="none" stroke="#000" stroke-width="3.2"/>
<text transform="translate(1675.0 2185.5) scale(0.975 1)" font-size="77" font-weight="bold" text-anchor="middle" fill="#05126B" xml:space="preserve" style="white-space:pre">0.96 <tspan font-size="68.8" dx="1.5" dy="-7.8" letter-spacing="4.44">***</tspan></text>
</g>
<g>
<rect x="1984.0" y="1903.6" width="530.5" height="507.8" fill="none" stroke="#000" stroke-width="3.2"/>
<g clip-path="url(#c33)" fill="#FF0025" stroke="#fff" stroke-width="3.2">
<rect x="1984.00" y="1903.60" width="40.81" height="507.80"/>
<rect x="2024.81" y="2202.31" width="40.81" height="209.09"/>
<rect x="2065.62" y="2381.53" width="40.81" height="29.87"/>
<path d="M2106.42 2411.40H2147.23" fill="none"/>
<rect x="2147.23" y="2306.85" width="40.81" height="104.55"/>
<rect x="2188.04" y="2291.92" width="40.81" height="119.48"/>
<rect x="2228.85" y="2097.76" width="40.81" height="313.64"/>
<rect x="2269.65" y="2172.44" width="40.81" height="238.96"/>
<rect x="2310.46" y="2202.31" width="40.81" height="209.09"/>
<rect x="2351.27" y="2247.11" width="40.81" height="164.29"/>
<rect x="2392.08" y="2276.98" width="40.81" height="134.42"/>
<rect x="2432.88" y="2247.11" width="40.81" height="164.29"/>
<rect x="2473.69" y="2366.59" width="40.81" height="44.81"/>
</g>
<polyline clip-path="url(#c33)" points="1984.0,2410.3 1986.1,2409.9 1988.2,2409.5 1990.2,2409.0 1992.3,2408.4 1994.4,2407.7 1996.5,2406.8 1998.5,2405.9 2000.6,2404.7 2002.7,2403.4 2004.8,2401.8 2006.8,2400.1 2008.9,2398.0 2011.0,2395.7 2013.1,2393.0 2015.1,2390.0 2017.2,2386.6 2019.3,2382.8 2021.4,2378.5 2023.5,2373.7 2025.5,2368.3 2027.6,2362.4 2029.7,2355.8 2031.8,2348.7 2033.8,2340.8 2035.9,2332.3 2038.0,2323.0 2040.1,2313.0 2042.1,2302.2 2044.2,2290.7 2046.3,2278.5 2048.4,2265.5 2050.4,2251.8 2052.5,2237.4 2054.6,2222.4 2056.7,2206.8 2058.7,2190.7 2060.8,2174.1 2062.9,2157.1 2065.0,2139.8 2067.1,2122.4 2069.1,2104.8 2071.2,2087.4 2073.3,2070.0 2075.4,2053.0 2077.4,2036.3 2079.5,2020.2 2081.6,2004.8 2083.7,1990.2 2085.7,1976.5 2087.8,1963.8 2089.9,1952.3 2092.0,1942.0 2094.0,1933.0 2096.1,1925.5 2098.2,1919.4 2100.3,1914.9 2102.4,1911.9 2104.4,1910.5 2106.5,1910.7 2108.6,1912.4 2110.7,1915.7 2112.7,1920.5 2114.8,1926.7 2116.9,1934.2 2119.0,1943.0 2121.0,1953.0 2123.1,1964.0 2125.2,1976.0 2127.3,1988.8 2129.3,2002.3 2131.4,2016.3 2133.5,2030.7 2135.6,2045.5 2137.6,2060.3 2139.7,2075.2 2141.8,2090.0 2143.9,2104.5 2146.0,2118.7 2148.0,2132.4 2150.1,2145.5 2152.2,2158.0 2154.3,2169.7 2156.3,2180.7 2158.4,2190.7 2160.5,2199.8 2162.6,2207.9 2164.6,2215.1 2166.7,2221.1 2168.8,2226.1 2170.9,2230.0 2172.9,2232.9 2175.0,2234.6 2177.1,2235.3 2179.2,2234.9 2181.3,2233.6 2183.3,2231.2 2185.4,2227.8 2187.5,2223.6 2189.6,2218.4 2191.6,2212.5 2193.7,2205.7 2195.8,2198.2 2197.9,2190.0 2199.9,2181.1 2202.0,2171.7 2204.1,2161.8 2206.2,2151.5 2208.2,2140.7 2210.3,2129.6 2212.4,2118.2 2214.5,2106.6 2216.5,2094.9 2218.6,2083.1 2220.7,2071.3 2222.8,2059.5 2224.9,2047.8 2226.9,2036.2 2229.0,2024.9 2231.1,2013.9 2233.2,2003.1 2235.2,1992.8 2237.3,1982.8 2239.4,1973.4 2241.5,1964.4 2243.5,1956.0 2245.6,1948.2 2247.7,1940.9 2249.8,1934.3 2251.8,1928.3 2253.9,1923.0 2256.0,1918.4 2258.1,1914.4 2260.2,1911.0 2262.2,1908.3 2264.3,1906.3 2266.4,1904.8 2268.5,1903.9 2270.5,1903.6 2272.6,1903.8 2274.7,1904.5 2276.8,1905.6 2278.8,1907.1 2280.9,1909.1 2283.0,1911.3 2285.1,1913.8 2287.1,1916.6 2289.2,1919.6 2291.3,1922.7 2293.4,1926.0 2295.4,1929.4 2297.5,1932.9 2299.6,1936.4 2301.7,1940.0 2303.8,1943.6 2305.8,1947.2 2307.9,1950.7 2310.0,1954.3 2312.1,1957.8 2314.1,1961.4 2316.2,1964.9 2318.3,1968.3 2320.4,1971.8 2322.4,1975.3 2324.5,1978.8 2326.6,1982.2 2328.7,1985.8 2330.7,1989.3 2332.8,1992.9 2334.9,1996.6 2337.0,2000.3 2339.1,2004.1 2341.1,2008.0 2343.2,2012.0 2345.3,2016.1 2347.4,2020.4 2349.4,2024.7 2351.5,2029.3 2353.6,2033.9 2355.7,2038.7 2357.7,2043.7 2359.8,2048.9 2361.9,2054.2 2364.0,2059.8 2366.0,2065.5 2368.1,2071.4 2370.2,2077.5 2372.3,2083.8 2374.3,2090.3 2376.4,2097.0 2378.5,2104.0 2380.6,2111.1 2382.7,2118.4 2384.7,2126.0 2386.8,2133.7 2388.9,2141.6 2391.0,2149.6 2393.0,2157.9 2395.1,2166.2 2397.2,2174.7 2399.3,2183.3 2401.3,2192.0 2403.4,2200.8 2405.5,2209.6 2407.6,2218.4 2409.6,2227.2 2411.7,2236.0 2413.8,2244.7 2415.9,2253.3 2418.0,2261.9 2420.0,2270.3 2422.1,2278.5 2424.2,2286.6 2426.3,2294.4 2428.3,2302.1 2430.4,2309.5 2432.5,2316.6 2434.6,2323.5 2436.6,2330.1 2438.7,2336.4 2440.8,2342.4 2442.9,2348.1 2444.9,2353.5 2447.0,2358.6 2449.1,2363.4 2451.2,2367.9 2453.2,2372.0 2455.3,2375.9 2457.4,2379.5 2459.5,2382.9 2461.6,2385.9 2463.6,2388.7 2465.7,2391.3 2467.8,2393.6 2469.9,2395.8 2471.9,2397.7 2474.0,2399.4 2476.1,2401.0 2478.2,2402.4 2480.2,2403.6 2482.3,2404.7 2484.4,2405.7 2486.5,2406.5 2488.5,2407.3 2490.6,2408.0 2492.7,2408.5 2494.8,2409.0 2496.9,2409.5 2498.9,2409.9 2501.0,2410.2 2503.1,2410.5 2505.2,2410.7 2507.2,2410.9 2509.3,2411.1 2511.4,2411.2 2513.5,2411.3" fill="none" stroke="#414182" stroke-width="6.4" stroke-linejoin="round" stroke-linecap="round"/>
<text x="2249.2" y="2001.7" font-size="35.7" text-anchor="middle" fill="#000">Petal.Width</text>
</g>
<g stroke="#000" stroke-width="3.2" fill="none" stroke-linecap="round">
<path d="M309.0 2411.4H786.1M309.0 2411.4V2433.0M377.2 2411.4V2433.0M445.3 2411.4V2433.0M513.5 2411.4V2433.0M581.6 2411.4V2433.0M649.8 2411.4V2433.0M717.9 2411.4V2433.0M786.1 2411.4V2433.0"/>
<path d="M1429.6 2411.4H1928.7M1429.6 2411.4V2433.0M1512.8 2411.4V2433.0M1596.0 2411.4V2433.0M1679.2 2411.4V2433.0M1762.3 2411.4V2433.0M1845.5 2411.4V2433.0M1928.7 2411.4V2433.0"/>
<path d="M855.3 245.8H1265.2M855.3 245.8V224.2M957.7 245.8V224.2M1060.2 245.8V224.2M1162.7 245.8V224.2M1265.2 245.8V224.2"/>
<path d="M2085.5 245.8H2494.9M2085.5 245.8V224.2M2187.8 245.8V224.2M2290.2 245.8V224.2M2392.5 245.8V224.2M2494.9 245.8V224.2"/>
<path d="M262.1 1288.1V896.0M262.1 1288.1H240.5M262.1 1190.1H240.5M262.1 1092.1H240.5M262.1 994.0H240.5M262.1 896.0H240.5"/>
<path d="M262.1 2314.2V1922.4M262.1 2314.2H240.5M262.1 2216.3H240.5M262.1 2118.3H240.5M262.1 2020.4H240.5M262.1 1922.4H240.5"/>
<path d="M2514.5 709.1V251.6M2514.5 709.1H2536.1M2514.5 643.8H2536.1M2514.5 578.4H2536.1M2514.5 513.0H2536.1M2514.5 447.7H2536.1M2514.5 382.3H2536.1M2514.5 316.9H2536.1M2514.5 251.6H2536.1"/>
<path d="M2514.5 1840.0V1362.0M2514.5 1840.0H2536.1M2514.5 1760.3H2536.1M2514.5 1680.7H2536.1M2514.5 1601.0H2536.1M2514.5 1521.4H2536.1M2514.5 1441.7H2536.1M2514.5 1362.0H2536.1"/>
</g>
<g font-size="36" fill="#000" text-anchor="middle">
<text x="307.5" y="2491.0">4.5</text>
<text x="443.8" y="2491.0">5.5</text>
<text x="580.1" y="2491.0">6.5</text>
<text x="716.4" y="2491.0">7.5</text>
<text x="1429.6" y="2491.0">1</text>
<text x="1512.8" y="2491.0">2</text>
<text x="1596.0" y="2491.0">3</text>
<text x="1679.2" y="2491.0">4</text>
<text x="1762.3" y="2491.0">5</text>
<text x="1845.5" y="2491.0">6</text>
<text x="1928.7" y="2491.0">7</text>
<text x="853.8" y="193.9">2.0</text>
<text x="956.2" y="193.9">2.5</text>
<text x="1058.7" y="193.9">3.0</text>
<text x="1161.2" y="193.9">3.5</text>
<text x="1263.7" y="193.9">4.0</text>
<text x="2084.0" y="193.9">0.5</text>
<text x="2186.3" y="193.9">1.0</text>
<text x="2288.7" y="193.9">1.5</text>
<text x="2391.0" y="193.9">2.0</text>
<text x="2493.4" y="193.9">2.5</text>
<text transform="translate(209.3 1286.6) rotate(-90)">2.0</text>
<text transform="translate(209.3 1188.6) rotate(-90)">2.5</text>
<text transform="translate(209.3 1090.6) rotate(-90)">3.0</text>
<text transform="translate(209.3 992.5) rotate(-90)">3.5</text>
<text transform="translate(209.3 894.5) rotate(-90)">4.0</text>
<text transform="translate(209.3 2312.7) rotate(-90)">0.5</text>
<text transform="translate(209.3 2214.8) rotate(-90)">1.0</text>
<text transform="translate(209.3 2116.8) rotate(-90)">1.5</text>
<text transform="translate(209.3 2018.9) rotate(-90)">2.0</text>
<text transform="translate(209.3 1920.9) rotate(-90)">2.5</text>
<text transform="translate(2595.0 708.1) rotate(-90)">4.5</text>
<text transform="translate(2595.0 577.4) rotate(-90)">5.5</text>
<text transform="translate(2595.0 446.7) rotate(-90)">6.5</text>
<text transform="translate(2595.0 315.9) rotate(-90)">7.5</text>
<text transform="translate(2595.0 1840.7) rotate(-90)">1</text>
<text transform="translate(2595.0 1761.0) rotate(-90)">2</text>
<text transform="translate(2595.0 1681.4) rotate(-90)">3</text>
<text transform="translate(2595.0 1601.7) rotate(-90)">4</text>
<text transform="translate(2595.0 1522.1) rotate(-90)">5</text>
<text transform="translate(2595.0 1442.4) rotate(-90)">6</text>
<text transform="translate(2595.0 1362.7) rotate(-90)">7</text>
</g>
<defs><filter id="bl" x="-50%" y="-50%" width="200%" height="200%"><feGaussianBlur stdDeviation="1.1"/></filter></defs>
<g fill="none" stroke="#fff" stroke-width="4.4" stroke-linecap="round" stroke-linejoin="round" filter="url(#bl)">
<polyline opacity="0.95" points="1201.5,1188.0 1202.6,1189.4 1203.6,1190.8 1204.6,1192.3 1205.7,1193.9 1206.7,1195.5 1207.8,1197.2 1208.8,1198.9 1209.8,1200.7 1210.9,1202.6 1211.9,1204.6 1212.9,1206.6 1214.0,1208.6 1215.0,1210.7 1216.1,1212.8 1217.1,1214.9 1218.1,1217.1 1219.2,1219.3 1220.2,1221.5 1221.3,1223.7 1222.3,1225.9 1223.3,1228.1 1224.4,1230.3 1225.4,1232.5 1226.5,1234.6 1227.5,1236.7 1228.5,1238.8 1229.6,1240.8"/>
<polyline opacity="0.6" points="1252.5,1271.6 1253.5,1272.4 1254.5,1273.2 1255.6,1273.9 1256.6,1274.6 1257.6,1275.3 1258.7,1276.0 1259.7,1276.7 1260.8,1277.3 1261.8,1277.9 1262.8,1278.5 1263.9,1279.1 1264.9,1279.6 1266.0,1280.2 1267.0,1280.7 1268.0,1281.2 1269.1,1281.7 1270.1,1282.2 1271.2,1282.7 1272.2,1283.1 1273.2,1283.6 1274.3,1284.1 1275.3,1284.5 1276.4,1284.9 1277.4,1285.3 1278.4,1285.7"/>
<polyline opacity="1.0" points="2424.2,2286.6 2425.2,2290.5 2426.3,2294.4 2427.3,2298.3 2428.3,2302.1 2429.4,2305.8 2430.4,2309.5 2431.4,2313.1 2432.5,2316.6 2433.5,2320.1 2434.6,2323.5 2435.6,2326.9 2436.6,2330.1 2437.7,2333.3 2438.7,2336.4 2439.8,2339.5 2440.8,2342.4 2441.8,2345.3 2442.9,2348.1 2443.9,2350.9 2444.9,2353.5 2446.0,2356.1 2447.0,2358.6 2448.1,2361.0 2449.1,2363.4 2450.1,2365.7 2451.2,2367.9 2452.2,2370.0 2453.2,2372.0 2454.3,2374.0 2455.3,2375.9 2456.4,2377.8 2457.4,2379.5 2458.4,2381.2 2459.5,2382.9 2460.5,2384.4"/>
<polyline opacity="0.35" points="2019.3,2382.8 2020.3,2380.7 2021.4,2378.5 2022.4,2376.1 2023.5,2373.7 2024.5,2371.0 2025.5,2368.3 2026.6,2365.4 2027.6,2362.4 2028.6,2359.2 2029.7,2355.8 2030.7,2352.3 2031.8,2348.7 2032.8,2344.8 2033.8,2340.8 2034.9,2336.6 2035.9,2332.3 2036.9,2327.7 2038.0,2323.0 2039.0,2318.1 2040.1,2313.0 2041.1,2307.7"/>
<polyline opacity="0.4" points="1463.9,1808.3 1465.0,1805.0 1466.0,1801.6 1467.0,1798.1 1468.1,1794.4 1469.1,1790.5 1470.2,1786.4 1471.2,1782.2"/>
<polyline opacity="0.5" points="1858.1,1814.3 1859.1,1816.1 1860.1,1817.9 1861.2,1819.5 1862.2,1821.2 1863.2,1822.8 1864.3,1824.3 1865.3,1825.8 1866.4,1827.3 1867.4,1828.7 1868.4,1830.1 1869.5,1831.4 1870.5,1832.7 1871.5,1833.9 1872.6,1835.1 1873.6,1836.2 1874.7,1837.4 1875.7,1838.4 1876.7,1839.5 1877.8,1840.4 1878.8,1841.4 1879.8,1842.3 1880.9,1843.2 1881.9,1844.0 1883.0,1844.8 1884.0,1845.6 1885.0,1846.3 1886.1,1847.0 1887.1,1847.7 1888.1,1848.4 1889.2,1849.0 1890.2,1849.6 1891.3,1850.1 1892.3,1850.7"/>
<polyline opacity="0.35" points="373.1,489.3 374.1,482.9 375.2,476.5 376.2,470.0 377.2,463.5"/>
<polyline opacity="0.35" points="308.8,734.4 309.8,733.0 310.8,731.5 311.9,730.0 312.9,728.4 314.0,726.8 315.0,725.0 316.0,723.2 317.1,721.3 318.1,719.3 319.1,717.2 320.2,715.0"/>
</g>
<g fill="#fff">
<ellipse cx="835.6" cy="711" rx="4" ry="10.5"/>
<ellipse cx="915" cy="754.3" rx="13.5" ry="4"/>
<ellipse cx="2048" cy="753.6" rx="4.5" ry="2.2"/>
<ellipse cx="835.6" cy="1217.5" rx="4" ry="19.5"/>
<ellipse cx="2057" cy="1903.6" rx="10.5" ry="3.6"/>
<ellipse cx="2309.5" cy="1453.2" rx="7" ry="2.8"/>
<ellipse cx="1640.3" cy="1115" rx="5" ry="9.5" transform="rotate(-28 1640.3 1115)"/>
</g>
</svg>
</body></html>
